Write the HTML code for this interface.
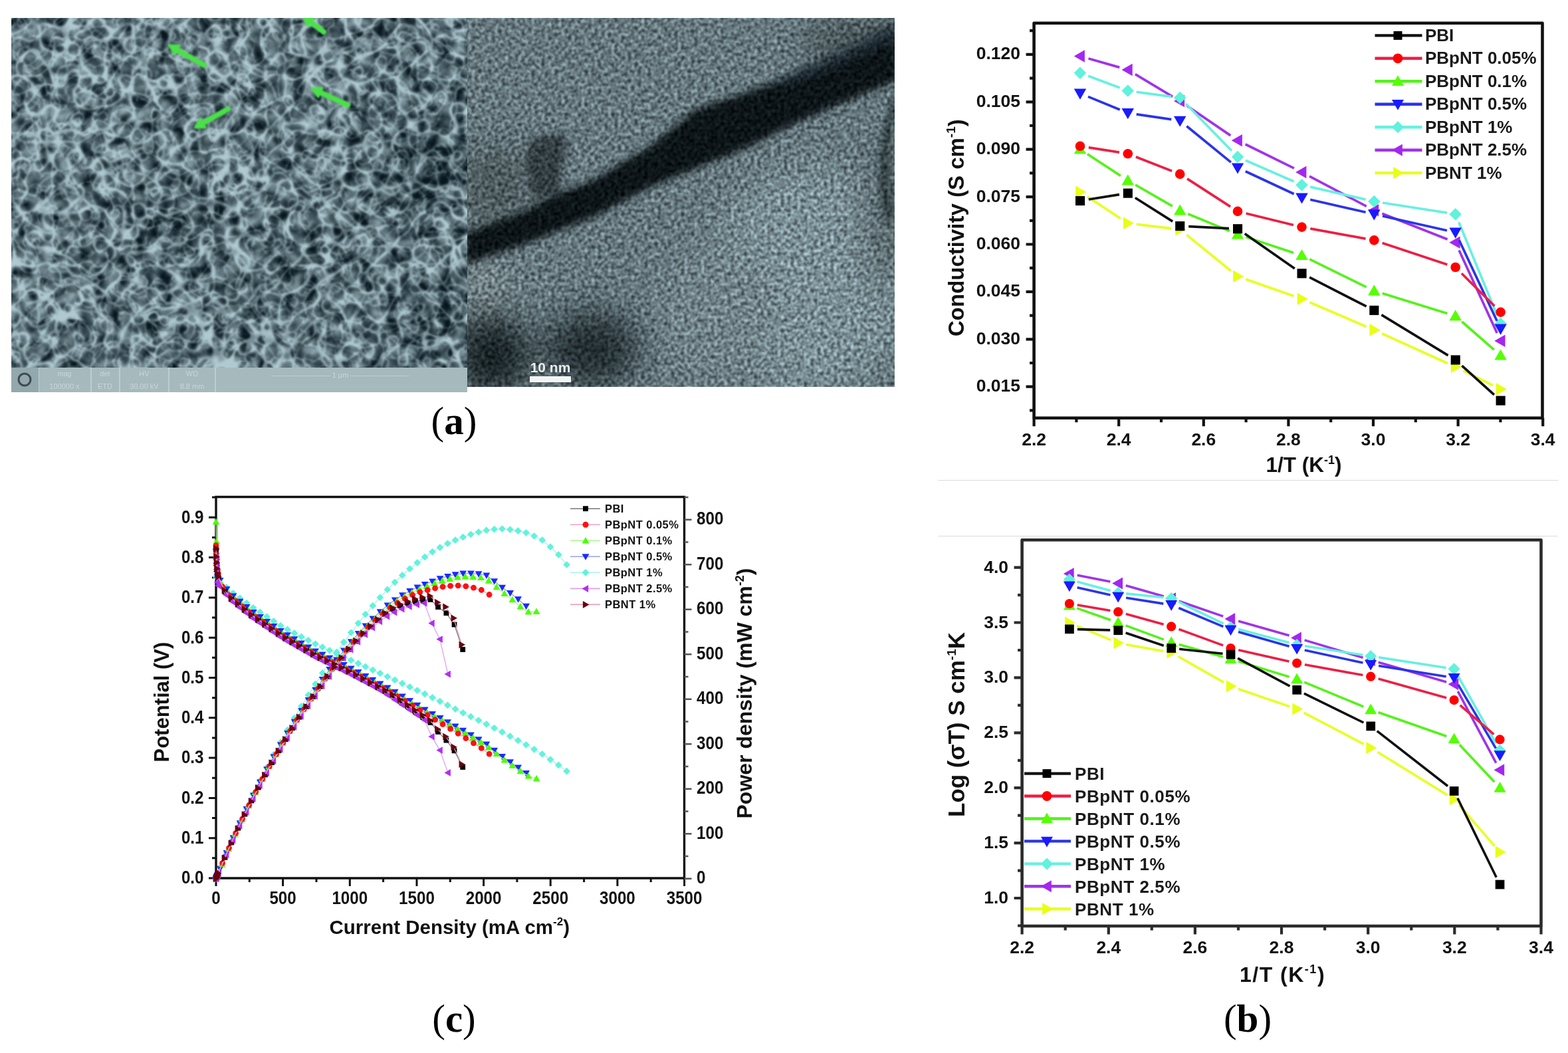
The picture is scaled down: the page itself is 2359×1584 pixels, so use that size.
<!DOCTYPE html>
<html><head><meta charset="utf-8"><title>Figure</title>
<style>html,body{margin:0;padding:0;background:#fff;}body{width:2359px;height:1584px;overflow:hidden}svg{display:block}</style>
</head><body>
<svg xmlns="http://www.w3.org/2000/svg" width="2359" height="1584" viewBox="0 0 2359 1584">
<rect width="2359" height="1584" fill="#fff"/>
<defs>
<clipPath id="semclip"><rect x="17" y="27" width="686" height="526"/></clipPath>
<clipPath id="temclip"><rect x="703" y="27" width="643" height="555"/></clipPath>
<filter id="semf" x="5" y="15" width="710" height="550" filterUnits="userSpaceOnUse" color-interpolation-filters="sRGB">
  <feTurbulence type="turbulence" baseFrequency="0.025" numOctaves="1" seed="7" result="t1"/>
  <feColorMatrix in="t1" type="matrix" values="1 0 0 0 0  1 0 0 0 0  1 0 0 0 0  0 0 0 0 1" result="g1"/>
  <feComponentTransfer in="g1" result="l1"><feFuncR type="table" tableValues="1 0.55 0.15 0.02 0 0 0 0 0 0 0 0 0 0 0 0 0 0 0 0 0 0 0 0 0 0 0 0 0 0 0 0 0 0 0 0 0 0 0 0"/><feFuncG type="table" tableValues="1 0.55 0.15 0.02 0 0 0 0 0 0 0 0 0 0 0 0 0 0 0 0 0 0 0 0 0 0 0 0 0 0 0 0 0 0 0 0 0 0 0 0"/><feFuncB type="table" tableValues="1 0.55 0.15 0.02 0 0 0 0 0 0 0 0 0 0 0 0 0 0 0 0 0 0 0 0 0 0 0 0 0 0 0 0 0 0 0 0 0 0 0 0"/></feComponentTransfer>
  <feTurbulence type="turbulence" baseFrequency="0.035" numOctaves="1" seed="21" result="t2"/>
  <feColorMatrix in="t2" type="matrix" values="0 1 0 0 0  0 1 0 0 0  0 1 0 0 0  0 0 0 0 1" result="g2"/>
  <feComponentTransfer in="g2" result="l2"><feFuncR type="table" tableValues="0.9 0.45 0.1 0 0 0 0 0 0 0 0 0 0 0 0 0 0 0 0 0 0 0 0 0 0 0 0 0 0 0 0 0 0 0 0 0 0 0 0 0"/><feFuncG type="table" tableValues="0.9 0.45 0.1 0 0 0 0 0 0 0 0 0 0 0 0 0 0 0 0 0 0 0 0 0 0 0 0 0 0 0 0 0 0 0 0 0 0 0 0 0"/><feFuncB type="table" tableValues="0.9 0.45 0.1 0 0 0 0 0 0 0 0 0 0 0 0 0 0 0 0 0 0 0 0 0 0 0 0 0 0 0 0 0 0 0 0 0 0 0 0 0"/></feComponentTransfer>
  <feBlend in="l1" in2="l2" mode="lighten" result="lines0"/>
  <feTurbulence type="turbulence" baseFrequency="0.05" numOctaves="1" seed="41" result="t3"/>
  <feColorMatrix in="t3" type="matrix" values="0 0 1 0 0  0 0 1 0 0  0 0 1 0 0  0 0 0 0 1" result="g3"/>
  <feComponentTransfer in="g3" result="l3"><feFuncR type="table" tableValues="0.7 0.28 0.04 0 0 0 0 0 0 0 0 0 0 0 0 0 0 0 0 0 0 0 0 0 0 0 0 0 0 0 0 0 0 0 0 0 0 0 0 0"/><feFuncG type="table" tableValues="0.7 0.28 0.04 0 0 0 0 0 0 0 0 0 0 0 0 0 0 0 0 0 0 0 0 0 0 0 0 0 0 0 0 0 0 0 0 0 0 0 0 0"/><feFuncB type="table" tableValues="0.7 0.28 0.04 0 0 0 0 0 0 0 0 0 0 0 0 0 0 0 0 0 0 0 0 0 0 0 0 0 0 0 0 0 0 0 0 0 0 0 0 0"/></feComponentTransfer>
  <feBlend in="lines0" in2="l3" mode="lighten" result="lines"/>
  <feTurbulence type="fractalNoise" baseFrequency="0.05" numOctaves="2" seed="5" result="mn"/>
  <feColorMatrix in="mn" type="matrix" values="1 0 0 0 0  1 0 0 0 0  1 0 0 0 0  0 0 0 0 1" result="mng"/>
  <feColorMatrix in="SourceGraphic" type="matrix" values="1 0 0 0 0  1 0 0 0 0  1 0 0 0 0  0 0 0 0 1" result="lfg"/>
  <feComposite in="mng" in2="lfg" operator="arithmetic" k1="0" k2="1.4" k3="0.8" k4="-0.8" result="bg"/>
  <feComposite in="lines" in2="bg" operator="arithmetic" k1="0" k2="0.62" k3="1" k4="0" result="v"/>
  <feGaussianBlur in="v" stdDeviation="1.7" result="vb"/>
  <feColorMatrix in="vb" type="matrix" values="0.66 0 0 0 0.03  0 0.7 0 0 0.09  0 0 0.7 0 0.12  0 0 0 0 1"/>
</filter>
<filter id="blur12" x="-50%" y="-50%" width="200%" height="200%" color-interpolation-filters="sRGB"><feGaussianBlur stdDeviation="12"/></filter>
<filter id="blur25" x="-50%" y="-50%" width="200%" height="200%" color-interpolation-filters="sRGB"><feGaussianBlur stdDeviation="25"/></filter>
<filter id="blur1" x="-10%" y="-10%" width="120%" height="120%" color-interpolation-filters="sRGB"><feGaussianBlur stdDeviation="0.9"/></filter>
<filter id="blur6" x="-50%" y="-50%" width="200%" height="200%" color-interpolation-filters="sRGB"><feGaussianBlur stdDeviation="6"/></filter>
<filter id="temf" x="690" y="15" width="670" height="580" filterUnits="userSpaceOnUse" color-interpolation-filters="sRGB">
  <feTurbulence type="fractalNoise" baseFrequency="0.2" numOctaves="2" seed="9" result="n"/>
  <feColorMatrix in="n" type="matrix" values="1 0 0 0 0  1 0 0 0 0  1 0 0 0 0  0 0 0 0 1" result="ng"/>
  <feComponentTransfer in="ng" result="nc">
    <feFuncR type="linear" slope="1.7" intercept="-0.35"/>
    <feFuncG type="linear" slope="1.7" intercept="-0.35"/>
    <feFuncB type="linear" slope="1.7" intercept="-0.35"/>
  </feComponentTransfer>
  <feGaussianBlur in="nc" stdDeviation="0.9" result="nb"/>
  <feComposite in="SourceGraphic" in2="nb" operator="arithmetic" k1="1.0" k2="0.5" k3="0.1" k4="-0.05"/>
</filter>
</defs>
<g clip-path="url(#semclip)"><g filter="url(#semf)">
<rect x="5" y="15" width="710" height="550" fill="#8a8a8a"/>
<g filter="url(#blur25)">
<ellipse cx="640" cy="250" rx="70" ry="80" fill="#505050"/>
<ellipse cx="260" cy="350" rx="90" ry="60" fill="#6a6a6a"/>
<ellipse cx="650" cy="480" rx="60" ry="60" fill="#5a5a5a"/>
<ellipse cx="80" cy="200" rx="80" ry="120" fill="#9e9e9e"/>
<ellipse cx="60" cy="440" rx="50" ry="60" fill="#a8a8a8"/>
<ellipse cx="400" cy="120" rx="120" ry="70" fill="#949494"/>
<ellipse cx="470" cy="400" rx="80" ry="50" fill="#707070"/>
<ellipse cx="300" cy="500" rx="120" ry="40" fill="#7a7a7a"/>
</g></g></g>
<g clip-path="url(#semclip)" filter="url(#blur1)">
<path d="M266.4 74.9L307 98" stroke="#4be04a" stroke-width="8" stroke-linecap="round"/>
<path d="M254.3 68.0L262.7 81.5L270.1 68.4Z" fill="#4be04a" stroke="#4be04a" stroke-width="3" stroke-linejoin="round"/>
<path d="M467.6 33.3L487 48" stroke="#4be04a" stroke-width="8" stroke-linecap="round"/>
<path d="M456.4 24.8L463.0 39.2L472.1 27.3Z" fill="#4be04a" stroke="#4be04a" stroke-width="3" stroke-linejoin="round"/>
<path d="M481.9 139.0L523 158" stroke="#4be04a" stroke-width="8" stroke-linecap="round"/>
<path d="M469.2 133.2L478.8 145.8L485.0 132.2Z" fill="#4be04a" stroke="#4be04a" stroke-width="3" stroke-linejoin="round"/>
<path d="M305.5 185.1L343 164" stroke="#4be04a" stroke-width="8" stroke-linecap="round"/>
<path d="M293.3 192.0L309.1 191.7L301.8 178.6Z" fill="#4be04a" stroke="#4be04a" stroke-width="3" stroke-linejoin="round"/>
</g>
<rect x="17" y="553" width="686" height="37" fill="#a6b9bd"/>
<g stroke="#c6d4d6" stroke-width="1.5">
<path d="M58 553V590"/>
<path d="M137 553V590"/>
<path d="M180 553V590"/>
<path d="M254 553V590"/>
<path d="M324 553V590"/>
</g>
<rect x="17" y="553" width="41" height="37" fill="#93a8ac"/>
<circle cx="37" cy="571" r="9" fill="none" stroke="#3d4a4e" stroke-width="3"/>
<g font-family="'Liberation Sans', Arial, sans-serif" font-size="11px" fill="#c8d6d8" text-anchor="middle">
<text x="97" y="566">mag</text><text x="97" y="585">100000 x</text>
<text x="158" y="566">det</text><text x="158" y="585">ETD</text>
<text x="217" y="566">HV</text><text x="217" y="585">30.00 kV</text>
<text x="289" y="566">WD</text><text x="289" y="585">8.8 mm</text>
<text x="512" y="568">———————— 1 µm ————————</text>
</g>
<g clip-path="url(#temclip)"><g filter="url(#temf)">
<rect x="690" y="15" width="670" height="580" fill="#66787e"/>
<g filter="url(#blur25)">
<ellipse cx="1220" cy="420" rx="150" ry="170" fill="#7b8f96"/>
<ellipse cx="1080" cy="470" rx="90" ry="100" fill="#718389"/>
<ellipse cx="1290" cy="70" rx="80" ry="50" fill="#4a575a"/>
<ellipse cx="745" cy="280" rx="55" ry="60" fill="#4c595c"/>
<ellipse cx="740" cy="535" rx="55" ry="60" fill="#172124"/>
<ellipse cx="890" cy="525" rx="70" ry="55" fill="#222d31"/>
<ellipse cx="728" cy="430" rx="30" ry="40" fill="#7c8a8d"/>
<ellipse cx="1330" cy="330" rx="22" ry="110" fill="#505d60"/>
</g>
<g filter="url(#blur6)">
<path d="M700 350L783 320L838 292L894 270L949 237L977 221L1046 165L1087 151L1143 132L1198 110L1253 91L1309 63L1350 40L1350 120L1281 149L1198 185L1115 226L1060 248L977 282L894 326L783 370L700 398Z" fill="#0d1518"/>
<path d="M797 210 L835 200 L855 208 L848 240 L840 290 L805 300 L790 250 Z" fill="#2a3538" opacity="0.85"/>
<path d="M1150 130 L1350 30 L1350 60 L1200 125 Z" fill="#25323a" opacity="0.7"/>
<path d="M1350 150 C1330 200 1325 250 1338 330" stroke="#1e2a2e" stroke-width="10" fill="none"/>
</g>
</g></g>
<text x="828" y="560" font-family="'Liberation Sans', Arial, sans-serif" font-weight="bold" font-size="21px" fill="#e8eeee" text-anchor="middle">10 nm</text>
<rect x="797" y="566" width="62" height="9" fill="#f2f4f4"/>
<g id="b1">
<path d="M1555.6 34.7H2320.5V628.7H1555.6Z" fill="none" stroke="#111" stroke-width="4.6" stroke-linejoin="round"/>
<path d="M1543.6 581.7H1555.6M1543.6 510.3H1555.6M1543.6 438.9H1555.6M1543.6 367.5H1555.6M1543.6 296.1H1555.6M1543.6 224.7H1555.6M1543.6 153.3H1555.6M1543.6 81.9H1555.6M1549.1 617.4H1555.6M1549.1 546H1555.6M1549.1 474.6H1555.6M1549.1 403.2H1555.6M1549.1 331.8H1555.6M1549.1 260.4H1555.6M1549.1 189H1555.6M1549.1 117.6H1555.6M1549.1 46.2H1555.6M1555.6 628.7V641.2M1683.2 628.7V641.2M1810.8 628.7V641.2M1938.4 628.7V641.2M2066 628.7V641.2M2193.6 628.7V641.2M2321.2 628.7V641.2M1619.4 628.7V635.2M1747 628.7V635.2M1874.6 628.7V635.2M2002.2 628.7V635.2M2129.8 628.7V635.2M2257.4 628.7V635.2" stroke="#111" stroke-width="4.2" fill="none"/>
<g font-family="'Liberation Sans', Arial, sans-serif" font-weight="bold" font-size="26.5px" fill="#111">
<text x="1535" y="589.2" text-anchor="end">0.015</text>
<text x="1535" y="517.8" text-anchor="end">0.030</text>
<text x="1535" y="446.4" text-anchor="end">0.045</text>
<text x="1535" y="375" text-anchor="end">0.060</text>
<text x="1535" y="303.6" text-anchor="end">0.075</text>
<text x="1535" y="232.2" text-anchor="end">0.090</text>
<text x="1535" y="160.8" text-anchor="end">0.105</text>
<text x="1535" y="89.4" text-anchor="end">0.120</text>
<text x="1555.6" y="669.5" text-anchor="middle">2.2</text>
<text x="1683.2" y="669.5" text-anchor="middle">2.4</text>
<text x="1810.8" y="669.5" text-anchor="middle">2.6</text>
<text x="1938.4" y="669.5" text-anchor="middle">2.8</text>
<text x="2066" y="669.5" text-anchor="middle">3.0</text>
<text x="2193.6" y="669.5" text-anchor="middle">3.2</text>
<text x="2321.2" y="669.5" text-anchor="middle">3.4</text>
</g>
<text transform="translate(1449.5 506) rotate(-90)" font-family="'Liberation Sans', Arial, sans-serif" font-weight="bold" font-size="33px" fill="#111">Conductivity (S cm<tspan dy="-13" font-size="19px">-1</tspan><tspan dy="13">)</tspan></text>
<text x="1961.4" y="709.5" font-family="'Liberation Sans', Arial, sans-serif" font-weight="bold" font-size="31.5px" fill="#111" text-anchor="middle">1/T (K<tspan dy="-12" font-size="18px">-1</tspan><tspan dy="12">)</tspan></text>
<path d="M1635.9 295.8L1685.9 328.7M1709.7 337.3L1762.3 343.7M1785.3 353.4L1851.9 407.5M1874.3 420L1946.2 445.3M1970.4 454.7L2055.4 491.3M2079.1 501.8L2177.9 546.5M2201.4 557.7L2245.9 579.6" stroke="#e6ff22" stroke-width="3.7" fill="none"/>
<polygon points="1634.2,288.7 1618.1,279.4 1618.1,297.9" fill="#e8ff14"/>
<polygon points="1706,335.8 1689.9,326.6 1689.9,345.1" fill="#e8ff14"/>
<polygon points="1784.5,345.2 1768.3,335.9 1768.3,354.4" fill="#e8ff14"/>
<polygon points="1871.2,415.7 1855.1,406.4 1855.1,424.9" fill="#e8ff14"/>
<polygon points="1967.8,449.6 1951.6,440.4 1951.6,458.9" fill="#e8ff14"/>
<polygon points="2076.6,496.4 2060.4,487.1 2060.4,505.6" fill="#e8ff14"/>
<polygon points="2198.9,551.9 2182.8,542.6 2182.8,561.1" fill="#e8ff14"/>
<polygon points="2266.8,585.4 2250.7,576.1 2250.7,594.6" fill="#e8ff14"/>
<path d="M1637.5 88L1684.3 101.4M1707.9 111.7L1764.1 145.3M1785.9 159.3L1851.3 203.9M1873.6 217L1946.9 253.2M1970 265.1L2055.8 310.3M2079.4 321.2L2177.6 360M2195.1 376.6L2252.2 500.9" stroke="#a033e8" stroke-width="3.7" fill="none"/>
<polygon points="1615.8,84.4 1631.9,75.2 1631.9,93.7" fill="#a526f0"/>
<polygon points="1687.5,105 1703.7,95.8 1703.7,114.2" fill="#a526f0"/>
<polygon points="1766,152 1782.1,142.8 1782.1,161.2" fill="#a526f0"/>
<polygon points="1852.8,211.2 1868.9,201.9 1868.9,220.4" fill="#a526f0"/>
<polygon points="1949.2,259 1965.4,249.8 1965.4,268.2" fill="#a526f0"/>
<polygon points="2058.1,316.4 2074.2,307.1 2074.2,325.6" fill="#a526f0"/>
<polygon points="2180.4,364.8 2196.6,355.6 2196.6,374.1" fill="#a526f0"/>
<polygon points="2248.3,512.7 2264.5,503.5 2264.5,522" fill="#a526f0"/>
<path d="M1637.2 114.3L1684.6 132.1M1709.7 138.3L1762.3 145.3M1784.3 156.3L1852.9 226.7M1873.9 241.2L1946.6 273M1971.2 281.1L2054.6 300.1M2080.1 305L2176.9 320.2M2194.7 334.2L2252.6 474.9" stroke="#68f0e0" stroke-width="3.7" fill="none"/>
<polygon points="1625,100.5 1634.2,109.8 1625,119 1615.8,109.8" fill="#5ff2dc"/>
<polygon points="1696.8,127.3 1706,136.6 1696.8,145.8 1687.5,136.6" fill="#5ff2dc"/>
<polygon points="1775.2,137.8 1784.5,147 1775.2,156.2 1766,147" fill="#5ff2dc"/>
<polygon points="1862,226.8 1871.2,236 1862,245.2 1852.8,236" fill="#5ff2dc"/>
<polygon points="1958.5,268.9 1967.8,278.2 1958.5,287.4 1949.2,278.2" fill="#5ff2dc"/>
<polygon points="2067.3,293.8 2076.6,303 2067.3,312.2 2058.1,303" fill="#5ff2dc"/>
<polygon points="2189.7,312.9 2198.9,322.2 2189.7,331.4 2180.4,322.2" fill="#5ff2dc"/>
<polygon points="2257.6,477.6 2266.8,486.9 2257.6,496.1 2248.3,486.9" fill="#5ff2dc"/>
<path d="M1637 145.4L1684.8 165M1709.7 171.9L1762.3 179.7M1785.3 189.8L1851.9 244.1M1873.8 257.8L1946.7 291.8M1971.2 300.2L2054.6 319.3M2080 325L2177 346.7M2195.2 361.3L2252.1 482.7" stroke="#2a35e6" stroke-width="3.7" fill="none"/>
<polygon points="1625,149.7 1634.2,133.5 1615.8,133.5" fill="#1a1aff"/>
<polygon points="1696.8,179.2 1706,163.1 1687.5,163.1" fill="#1a1aff"/>
<polygon points="1775.2,190.8 1784.5,174.7 1766,174.7" fill="#1a1aff"/>
<polygon points="1862,261.6 1871.2,245.4 1852.8,245.4" fill="#1a1aff"/>
<polygon points="1958.5,306.6 1967.8,290.4 1949.2,290.4" fill="#1a1aff"/>
<polygon points="2067.3,331.4 2076.6,315.3 2058.1,315.3" fill="#1a1aff"/>
<polygon points="2189.7,358.8 2198.9,342.6 2180.4,342.6" fill="#1a1aff"/>
<polygon points="2257.6,503.8 2266.8,487.6 2248.3,487.6" fill="#1a1aff"/>
<path d="M1635.9 231.7L1685.9 264.4M1708.1 278L1763.9 310.2M1787.2 321.7L1850 347.6M1874.4 356.6L1946.1 380.2M1970.2 389.9L2055.6 431.8M2079.7 441.3L2177.3 471.6M2199.5 484L2247.8 526.1" stroke="#55f21a" stroke-width="3.7" fill="none"/>
<polygon points="1625,215.3 1634.2,231.5 1615.8,231.5" fill="#55ff00"/>
<polygon points="1696.8,262.2 1706,278.4 1687.5,278.4" fill="#55ff00"/>
<polygon points="1775.2,307.4 1784.5,323.6 1766,323.6" fill="#55ff00"/>
<polygon points="1862,343.4 1871.2,359.5 1852.8,359.5" fill="#55ff00"/>
<polygon points="1958.5,374.9 1967.8,391.1 1949.2,391.1" fill="#55ff00"/>
<polygon points="2067.3,428.2 2076.6,444.4 2058.1,444.4" fill="#55ff00"/>
<polygon points="2189.7,466.1 2198.9,482.3 2180.4,482.3" fill="#55ff00"/>
<polygon points="2257.6,525.5 2266.8,541.6 2248.3,541.6" fill="#55ff00"/>
<path d="M1637.8 221.9L1684 229.2M1708.9 236L1763.1 257.2M1786.1 268.9L1851.1 310.9M1874.6 321L1945.9 338.5M1971.3 343.9L2054.5 359.1M2079.6 365.5L2177.4 397.9M2198.9 411.2L2248.4 460.4" stroke="#ec1f45" stroke-width="3.7" fill="none"/>
<circle cx="1625" cy="219.8" r="7.3" fill="#ff0000"/>
<circle cx="1696.8" cy="231.3" r="7.3" fill="#ff0000"/>
<circle cx="1775.2" cy="261.9" r="7.3" fill="#ff0000"/>
<circle cx="1862" cy="317.9" r="7.3" fill="#ff0000"/>
<circle cx="1958.5" cy="341.6" r="7.3" fill="#ff0000"/>
<circle cx="2067.3" cy="361.4" r="7.3" fill="#ff0000"/>
<circle cx="2189.7" cy="402" r="7.3" fill="#ff0000"/>
<circle cx="2257.6" cy="469.6" r="7.3" fill="#ff0000"/>
<path d="M1637.8 300L1684 292.6M1707.8 297.5L1764.2 333.1M1788.2 340.6L1849 343.6M1872.7 351.6L1947.8 403.9M1970.1 417.2L2055.7 460.9M2078.4 473.6L2178.6 534.6M2199.4 550.1L2247.9 593.9" stroke="#111111" stroke-width="3.7" fill="none"/>
<rect x="1618" y="295" width="14.1" height="14.1" fill="#000000"/>
<rect x="1689.8" y="283.6" width="14.1" height="14.1" fill="#000000"/>
<rect x="1768.2" y="333" width="14.1" height="14.1" fill="#000000"/>
<rect x="1855" y="337.2" width="14.1" height="14.1" fill="#000000"/>
<rect x="1951.5" y="404.3" width="14.1" height="14.1" fill="#000000"/>
<rect x="2060.3" y="459.8" width="14.1" height="14.1" fill="#000000"/>
<rect x="2182.7" y="534.4" width="14.1" height="14.1" fill="#000000"/>
<rect x="2250.6" y="595.6" width="14.1" height="14.1" fill="#000000"/>
<g font-family="'Liberation Sans', Arial, sans-serif" font-weight="bold" font-size="26px" fill="#1a1a1a">
<path d="M2068.5 53.4H2139.5" stroke="#111111" stroke-width="4.4"/>
<rect x="2096.5" y="46.9" width="13" height="13" fill="#000000"/>
<text x="2144" y="61.9">PBI</text>
<path d="M2068.5 87.8H2139.5" stroke="#ec1f45" stroke-width="4.4"/>
<circle cx="2103" cy="87.8" r="7.4" fill="#ff0000"/>
<text x="2144" y="96.3">PBpNT 0.05%</text>
<path d="M2068.5 122.3H2139.5" stroke="#55f21a" stroke-width="4.4"/>
<polygon points="2103,113.3 2112,129.1 2094,129.1" fill="#55ff00"/>
<text x="2144" y="130.8">PBpNT 0.1%</text>
<path d="M2068.5 156.8H2139.5" stroke="#2a35e6" stroke-width="4.4"/>
<polygon points="2103,165.8 2112,150 2094,150" fill="#1a1aff"/>
<text x="2144" y="165.2">PBpNT 0.5%</text>
<path d="M2068.5 191.2H2139.5" stroke="#68f0e0" stroke-width="4.4"/>
<polygon points="2103,182.2 2112,191.2 2103,200.2 2094,191.2" fill="#5ff2dc"/>
<text x="2144" y="199.7">PBpNT 1%</text>
<path d="M2068.5 225.7H2139.5" stroke="#a033e8" stroke-width="4.4"/>
<polygon points="2094,225.7 2109.8,216.7 2109.8,234.7" fill="#a526f0"/>
<text x="2144" y="234.2">PBpNT 2.5%</text>
<path d="M2068.5 260.1H2139.5" stroke="#e6ff22" stroke-width="4.4"/>
<polygon points="2112,260.1 2096.2,251.1 2096.2,269.1" fill="#e8ff14"/>
<text x="2144" y="268.6">PBNT 1%</text>
</g>
</g>
<g id="b2">
<path d="M1537.6 812.2H2318.5V1393.0H1537.6Z" fill="none" stroke="#2b2b2b" stroke-width="4.6" stroke-linejoin="round"/>
<path d="M1525.6 1351H1537.6M1525.6 1268.1H1537.6M1525.6 1185.2H1537.6M1525.6 1102.3H1537.6M1525.6 1019.4H1537.6M1525.6 936.5H1537.6M1525.6 853.6H1537.6M1531.1 1392.5H1537.6M1531.1 1309.6H1537.6M1531.1 1226.7H1537.6M1531.1 1143.8H1537.6M1531.1 1060.8H1537.6M1531.1 978H1537.6M1531.1 895.1H1537.6M1537.6 1393.0V1405.5M1667.8 1393.0V1405.5M1797.9 1393.0V1405.5M1928 1393.0V1405.5M2058.2 1393.0V1405.5M2188.3 1393.0V1405.5M2318.5 1393.0V1405.5M1602.7 1393.0V1399.5M1732.8 1393.0V1399.5M1863 1393.0V1399.5M1993.1 1393.0V1399.5M2123.3 1393.0V1399.5M2253.4 1393.0V1399.5" stroke="#2b2b2b" stroke-width="4.2" fill="none"/>
<g font-family="'Liberation Sans', Arial, sans-serif" font-weight="bold" font-size="26.5px" fill="#111">
<text x="1517" y="1359" text-anchor="end">1.0</text>
<text x="1517" y="1276.1" text-anchor="end">1.5</text>
<text x="1517" y="1193.2" text-anchor="end">2.0</text>
<text x="1517" y="1110.3" text-anchor="end">2.5</text>
<text x="1517" y="1027.4" text-anchor="end">3.0</text>
<text x="1517" y="944.5" text-anchor="end">3.5</text>
<text x="1517" y="861.6" text-anchor="end">4.0</text>
<text x="1537.6" y="1433.5" text-anchor="middle">2.2</text>
<text x="1667.8" y="1433.5" text-anchor="middle">2.4</text>
<text x="1797.9" y="1433.5" text-anchor="middle">2.6</text>
<text x="1928" y="1433.5" text-anchor="middle">2.8</text>
<text x="2058.2" y="1433.5" text-anchor="middle">3.0</text>
<text x="2188.3" y="1433.5" text-anchor="middle">3.2</text>
<text x="2318.5" y="1433.5" text-anchor="middle">3.4</text>
</g>
<text transform="translate(1451 1229) rotate(-90)" font-family="'Liberation Sans', Arial, sans-serif" font-weight="bold" font-size="35px" fill="#111">Log (σT) S cm<tspan dy="-13" font-size="19px">-1</tspan><tspan dy="13">K</tspan></text>
<text x="1929.5" y="1477" font-family="'Liberation Sans', Arial, sans-serif" font-weight="bold" font-size="32px" letter-spacing="1.5" fill="#111" text-anchor="middle">1/T (K<tspan dy="-13" font-size="18px">-1</tspan><tspan dy="13">)</tspan></text>
<path d="M1620 941.3L1671.1 962.7M1694 969.4L1750.4 979.5M1772.6 987.5L1841.1 1026.4M1862.8 1036.2L1939.8 1062.6M1961.7 1072.1L2051.6 1119.3M2072.4 1131.2L2177.4 1196M2195.5 1211.4L2248.6 1272.6" stroke="#e6ff22" stroke-width="3.6" fill="none"/>
<polygon points="1617.9,936.7 1602.2,927.7 1602.2,945.7" fill="#e8ff14"/>
<polygon points="1691.2,967.3 1675.5,958.3 1675.5,976.3" fill="#e8ff14"/>
<polygon points="1771.2,981.6 1755.5,972.6 1755.5,990.6" fill="#e8ff14"/>
<polygon points="1860.5,1032.3 1844.8,1023.3 1844.8,1041.3" fill="#e8ff14"/>
<polygon points="1960.1,1066.5 1944.3,1057.5 1944.3,1075.5" fill="#e8ff14"/>
<polygon points="2071.2,1124.9 2055.4,1115.9 2055.4,1133.9" fill="#e8ff14"/>
<polygon points="2196.6,1202.3 2180.8,1193.3 2180.8,1211.3" fill="#e8ff14"/>
<polygon points="2265.5,1281.7 2249.8,1272.7 2249.8,1290.7" fill="#e8ff14"/>
<path d="M1620.7 865.3L1670.4 875.1M1693.7 880.7L1750.7 897M1773.5 904.2L1840.2 927.1M1863 934.3L1939.6 956.1M1962.6 962.9L2050.7 989.4M2073.7 996.2L2176.1 1025.9M2193.3 1039.8L2250.8 1147.7" stroke="#a033e8" stroke-width="3.6" fill="none"/>
<polygon points="1599.9,863 1615.7,854 1615.7,872" fill="#a526f0"/>
<polygon points="1673.2,877.4 1689,868.4 1689,886.4" fill="#a526f0"/>
<polygon points="1753.2,900.3 1769,891.3 1769,909.3" fill="#a526f0"/>
<polygon points="1842.5,931 1858.2,922 1858.2,940" fill="#a526f0"/>
<polygon points="1942.1,959.4 1957.8,950.4 1957.8,968.4" fill="#a526f0"/>
<polygon points="2053.2,992.9 2068.9,983.9 2068.9,1001.9" fill="#a526f0"/>
<polygon points="2178.6,1029.2 2194.3,1020.2 2194.3,1038.2" fill="#a526f0"/>
<polygon points="2247.5,1158.3 2263.2,1149.3 2263.2,1167.3" fill="#a526f0"/>
<path d="M1620.5 874.9L1670.6 888.5M1694.1 892.9L1750.3 898.8M1773 905.2L1840.7 938.2M1863.1 946.5L1939.5 966.8M1963 971.7L2050.3 985.3M2074.1 988.9L2175.7 1004.5M2193.5 1016.8L2250.6 1118.2" stroke="#68f0e0" stroke-width="3.6" fill="none"/>
<polygon points="1608.9,862.7 1617.9,871.7 1608.9,880.7 1599.9,871.7" fill="#5ff2dc"/>
<polygon points="1682.2,882.7 1691.2,891.7 1682.2,900.7 1673.2,891.7" fill="#5ff2dc"/>
<polygon points="1762.2,891 1771.2,900 1762.2,909 1753.2,900" fill="#5ff2dc"/>
<polygon points="1851.5,934.4 1860.5,943.4 1851.5,952.4 1842.5,943.4" fill="#5ff2dc"/>
<polygon points="1951.1,960.9 1960.1,969.9 1951.1,978.9 1942.1,969.9" fill="#5ff2dc"/>
<polygon points="2062.2,978.1 2071.2,987.1 2062.2,996.1 2053.2,987.1" fill="#5ff2dc"/>
<polygon points="2187.6,997.3 2196.6,1006.3 2187.6,1015.3 2178.6,1006.3" fill="#5ff2dc"/>
<polygon points="2256.5,1119.7 2265.5,1128.7 2256.5,1137.7 2247.5,1128.7" fill="#5ff2dc"/>
<path d="M1620.6 883.8L1670.5 894.9M1694.1 899.3L1750.3 908.1M1773.3 914.5L1840.4 942.6M1863 950.5L1939.6 972.3M1962.8 978.1L2050.5 997.1M2074.1 1001.5L2175.7 1017.7M2193.7 1029.9L2250.4 1125.7" stroke="#2a35e6" stroke-width="3.6" fill="none"/>
<polygon points="1608.9,890.2 1617.9,874.5 1599.9,874.5" fill="#1a1aff"/>
<polygon points="1682.2,906.5 1691.2,890.8 1673.2,890.8" fill="#1a1aff"/>
<polygon points="1762.2,918.9 1771.2,903.1 1753.2,903.1" fill="#1a1aff"/>
<polygon points="1851.5,956.2 1860.5,940.5 1842.5,940.5" fill="#1a1aff"/>
<polygon points="1951.1,984.6 1960.1,968.9 1942.1,968.9" fill="#1a1aff"/>
<polygon points="2062.2,1008.6 2071.2,992.9 2053.2,992.9" fill="#1a1aff"/>
<polygon points="2187.6,1028.6 2196.6,1012.9 2178.6,1012.9" fill="#1a1aff"/>
<polygon points="2256.5,1145 2265.5,1129.2 2247.5,1129.2" fill="#1a1aff"/>
<path d="M1620.2 914.9L1670.9 932.7M1693.5 940.9L1750.9 962.1M1773.8 969.5L1839.9 988M1863 994.7L1939.6 1018.1M1962.2 1026.2L2051.1 1062.9M2073.5 1071.5L2176.3 1107.5M2195.8 1120.3L2248.3 1176.3" stroke="#55f21a" stroke-width="3.6" fill="none"/>
<polygon points="1608.9,901.9 1617.9,917.6 1599.9,917.6" fill="#55ff00"/>
<polygon points="1682.2,927.7 1691.2,943.5 1673.2,943.5" fill="#55ff00"/>
<polygon points="1762.2,957.3 1771.2,973 1753.2,973" fill="#55ff00"/>
<polygon points="1851.5,982.2 1860.5,998 1842.5,998" fill="#55ff00"/>
<polygon points="1951.1,1012.6 1960.1,1028.3 1942.1,1028.3" fill="#55ff00"/>
<polygon points="2062.2,1058.5 2071.2,1074.2 2053.2,1074.2" fill="#55ff00"/>
<polygon points="2187.6,1102.5 2196.6,1118.2 2178.6,1118.2" fill="#55ff00"/>
<polygon points="2256.5,1176.1 2265.5,1191.8 2247.5,1191.8" fill="#55ff00"/>
<path d="M1620.7 910L1670.4 918.4M1693.8 923.6L1750.6 939.2M1773.5 946.5L1840.2 970.9M1863.2 977.7L1939.4 994.9M1962.9 999.7L2050.4 1015.6M2073.7 1021L2176.1 1049.8M2196.7 1060.9L2247.4 1104.6" stroke="#ec1f45" stroke-width="3.6" fill="none"/>
<circle cx="1608.9" cy="908" r="7.1" fill="#ff0000"/>
<circle cx="1682.2" cy="920.4" r="7.1" fill="#ff0000"/>
<circle cx="1762.2" cy="942.4" r="7.1" fill="#ff0000"/>
<circle cx="1851.5" cy="975" r="7.1" fill="#ff0000"/>
<circle cx="1951.1" cy="997.6" r="7.1" fill="#ff0000"/>
<circle cx="2062.2" cy="1017.7" r="7.1" fill="#ff0000"/>
<circle cx="2187.6" cy="1053.1" r="7.1" fill="#ff0000"/>
<circle cx="2256.5" cy="1112.4" r="7.1" fill="#ff0000"/>
<path d="M1620.9 946.6L1670.2 947.9M1693.6 952L1750.8 971.2M1774.1 976.3L1839.6 983.2M1862.1 990.2L1940.5 1032.1M1961.9 1043.1L2051.4 1087M2071.7 1099.7L2178.1 1182.5M2192.9 1200.7L2251.2 1319.7" stroke="#111111" stroke-width="3.6" fill="none"/>
<rect x="1602.1" y="939.5" width="13.7" height="13.7" fill="#000000"/>
<rect x="1675.4" y="941.4" width="13.7" height="13.7" fill="#000000"/>
<rect x="1755.4" y="968.2" width="13.7" height="13.7" fill="#000000"/>
<rect x="1844.7" y="977.7" width="13.7" height="13.7" fill="#000000"/>
<rect x="1944.3" y="1031" width="13.7" height="13.7" fill="#000000"/>
<rect x="2055.4" y="1085.5" width="13.7" height="13.7" fill="#000000"/>
<rect x="2180.8" y="1183.1" width="13.7" height="13.7" fill="#000000"/>
<rect x="2249.7" y="1323.7" width="13.7" height="13.7" fill="#000000"/>
<g font-family="'Liberation Sans', Arial, sans-serif" font-weight="bold" font-size="26px" fill="#1a1a1a">
<path d="M1541 1163.6H1611" stroke="#111111" stroke-width="4.4"/>
<rect x="1568.5" y="1157.1" width="13" height="13" fill="#000000"/>
<text x="1617" y="1173.1" letter-spacing="0.6">PBI</text>
<path d="M1541 1197.5H1611" stroke="#ec1f45" stroke-width="4.4"/>
<circle cx="1575" cy="1197.5" r="7.4" fill="#ff0000"/>
<text x="1617" y="1207" letter-spacing="0.6">PBpNT 0.05%</text>
<path d="M1541 1231.5H1611" stroke="#55f21a" stroke-width="4.4"/>
<polygon points="1575,1222.5 1584,1238.2 1566,1238.2" fill="#55ff00"/>
<text x="1617" y="1241" letter-spacing="0.6">PBpNT 0.1%</text>
<path d="M1541 1265.4H1611" stroke="#2a35e6" stroke-width="4.4"/>
<polygon points="1575,1274.4 1584,1258.7 1566,1258.7" fill="#1a1aff"/>
<text x="1617" y="1274.9" letter-spacing="0.6">PBpNT 0.5%</text>
<path d="M1541 1299.4H1611" stroke="#68f0e0" stroke-width="4.4"/>
<polygon points="1575,1290.4 1584,1299.4 1575,1308.4 1566,1299.4" fill="#5ff2dc"/>
<text x="1617" y="1308.9" letter-spacing="0.6">PBpNT 1%</text>
<path d="M1541 1333.3H1611" stroke="#a033e8" stroke-width="4.4"/>
<polygon points="1566,1333.3 1581.8,1324.3 1581.8,1342.3" fill="#a526f0"/>
<text x="1617" y="1342.8" letter-spacing="0.6">PBpNT 2.5%</text>
<path d="M1541 1367.3H1611" stroke="#e6ff22" stroke-width="4.4"/>
<polygon points="1584,1367.3 1568.2,1358.3 1568.2,1376.3" fill="#e8ff14"/>
<text x="1617" y="1376.8" letter-spacing="0.6">PBNT 1%</text>
</g>
</g>
<g id="c">
<path d="M325.0 747.5H1029.5V1321.0H325.0Z" fill="none" stroke="#111" stroke-width="3.4" stroke-linejoin="miter"/>
<path d="M314.0 1321H325.0M314.0 1260.7H325.0M314.0 1200.4H325.0M314.0 1140.1H325.0M314.0 1079.8H325.0M314.0 1019.5H325.0M314.0 959.2H325.0M314.0 898.9H325.0M314.0 838.6H325.0M314.0 778.3H325.0M319.0 1290.8H325.0M319.0 1230.5H325.0M319.0 1170.2H325.0M319.0 1110H325.0M319.0 1049.7H325.0M319.0 989.3H325.0M319.0 929H325.0M319.0 868.8H325.0M319.0 808.4H325.0M319.0 748.1H325.0M325 1321.0V1333.0M425.6 1321.0V1333.0M526.3 1321.0V1333.0M627 1321.0V1333.0M727.6 1321.0V1333.0M828.2 1321.0V1333.0M928.9 1321.0V1333.0M1029.6 1321.0V1333.0M375.3 1321.0V1327.0M476 1321.0V1327.0M576.6 1321.0V1327.0M677.3 1321.0V1327.0M777.9 1321.0V1327.0M878.6 1321.0V1327.0M979.2 1321.0V1327.0" stroke="#111" stroke-width="3" fill="none"/>
<path d="M1029.5 1321.8H1040.5M1029.5 1254.3H1040.5M1029.5 1186.8H1040.5M1029.5 1119.3H1040.5M1029.5 1051.8H1040.5M1029.5 984.3H1040.5M1029.5 916.8H1040.5M1029.5 849.3H1040.5M1029.5 781.8H1040.5M1029.5 1288H1035.5M1029.5 1220.5H1035.5M1029.5 1153H1035.5M1029.5 1085.5H1035.5M1029.5 1018H1035.5M1029.5 950.5H1035.5M1029.5 883H1035.5M1029.5 815.5H1035.5M1029.5 748H1035.5" stroke="#555" stroke-width="2.6" fill="none"/>
<g font-family="'Liberation Sans', Arial, sans-serif" font-weight="bold" font-size="27.5px" fill="#111">
<text x="306.5" y="1329.3" text-anchor="end" textLength="33.6" lengthAdjust="spacingAndGlyphs">0.0</text>
<text x="306.5" y="1269" text-anchor="end" textLength="33.6" lengthAdjust="spacingAndGlyphs">0.1</text>
<text x="306.5" y="1208.7" text-anchor="end" textLength="33.6" lengthAdjust="spacingAndGlyphs">0.2</text>
<text x="306.5" y="1148.4" text-anchor="end" textLength="33.6" lengthAdjust="spacingAndGlyphs">0.3</text>
<text x="306.5" y="1088.1" text-anchor="end" textLength="33.6" lengthAdjust="spacingAndGlyphs">0.4</text>
<text x="306.5" y="1027.8" text-anchor="end" textLength="33.6" lengthAdjust="spacingAndGlyphs">0.5</text>
<text x="306.5" y="967.5" text-anchor="end" textLength="33.6" lengthAdjust="spacingAndGlyphs">0.6</text>
<text x="306.5" y="907.2" text-anchor="end" textLength="33.6" lengthAdjust="spacingAndGlyphs">0.7</text>
<text x="306.5" y="846.9" text-anchor="end" textLength="33.6" lengthAdjust="spacingAndGlyphs">0.8</text>
<text x="306.5" y="786.6" text-anchor="end" textLength="33.6" lengthAdjust="spacingAndGlyphs">0.9</text>
<text x="325" y="1359.5" text-anchor="middle" textLength="13.5" lengthAdjust="spacingAndGlyphs">0</text>
<text x="425.6" y="1359.5" text-anchor="middle" textLength="40.4" lengthAdjust="spacingAndGlyphs">500</text>
<text x="526.3" y="1359.5" text-anchor="middle" textLength="53.8" lengthAdjust="spacingAndGlyphs">1000</text>
<text x="627" y="1359.5" text-anchor="middle" textLength="53.8" lengthAdjust="spacingAndGlyphs">1500</text>
<text x="727.6" y="1359.5" text-anchor="middle" textLength="53.8" lengthAdjust="spacingAndGlyphs">2000</text>
<text x="828.2" y="1359.5" text-anchor="middle" textLength="53.8" lengthAdjust="spacingAndGlyphs">2500</text>
<text x="928.9" y="1359.5" text-anchor="middle" textLength="53.8" lengthAdjust="spacingAndGlyphs">3000</text>
<text x="1029.6" y="1359.5" text-anchor="middle" textLength="53.8" lengthAdjust="spacingAndGlyphs">3500</text>
<text x="1048" y="1329.4" textLength="13.5" lengthAdjust="spacingAndGlyphs">0</text>
<text x="1048" y="1261.9" textLength="40.4" lengthAdjust="spacingAndGlyphs">100</text>
<text x="1048" y="1194.4" textLength="40.4" lengthAdjust="spacingAndGlyphs">200</text>
<text x="1048" y="1126.9" textLength="40.4" lengthAdjust="spacingAndGlyphs">300</text>
<text x="1048" y="1059.4" textLength="40.4" lengthAdjust="spacingAndGlyphs">400</text>
<text x="1048" y="991.9" textLength="40.4" lengthAdjust="spacingAndGlyphs">500</text>
<text x="1048" y="924.4" textLength="40.4" lengthAdjust="spacingAndGlyphs">600</text>
<text x="1048" y="856.9" textLength="40.4" lengthAdjust="spacingAndGlyphs">700</text>
<text x="1048" y="789.4" textLength="40.4" lengthAdjust="spacingAndGlyphs">800</text>
</g>
<text transform="translate(253.7 1146.5) rotate(-90)" font-family="'Liberation Sans', Arial, sans-serif" font-weight="bold" font-size="31px" fill="#111">Potential (V)</text>
<text transform="translate(1130.5 1231.5) rotate(-90)" font-family="'Liberation Sans', Arial, sans-serif" font-weight="bold" font-size="32px" fill="#111">Power density (mW cm<tspan dy="-12" font-size="18px">-2</tspan><tspan dy="12">)</tspan></text>
<text x="495.5" y="1405.4" font-family="'Liberation Sans', Arial, sans-serif" font-weight="bold" font-size="29.5px" fill="#111">Current Density (mA cm<tspan dy="-13" font-size="17px">-2</tspan><tspan dy="13">)</tspan></text>
<path d="M325 867.5L326 868.8L327.4 870L340.9 883.5L350.9 892.3L360.9 899.7L371 907.1L381.1 914.3L391.3 921L401.5 927.7L411.8 934.4L422.1 941.2L432.5 947L442.9 952.4L453.4 957.8L463.9 963.2L474.5 968.6L485.1 973.4L495.8 978.3L506.5 983.3L517.2 988.2L528.1 993.2L538.9 998L549.8 1002.9L560.8 1007.9L571.8 1012.8L582.9 1017.8L594 1022.9L605.2 1028.1L616.5 1033.4L627.7 1038.6L639.1 1043.9L650.5 1049.3L661.9 1055.1L673.4 1060.8L685 1066.6L696.6 1072.3L708.3 1078L720 1083.6L731.8 1089.3L743.6 1095.2L755.5 1101.2L767.4 1107.5L779.4 1113.9L791.5 1120.3L803.6 1127.3L815.8 1134.3L828 1142.6L840.3 1150.9L852.6 1160M325 1321.8L326 1319.3L327.4 1315.7L340.9 1283.1L350.9 1260.1L360.9 1237.6L371 1215.9L381.1 1194.8L391.3 1174.3L401.5 1154.4L411.8 1135.2L422.1 1116.7L432.5 1098.2L442.9 1080.1L453.4 1062.5L463.9 1045.4L474.5 1028.9L485.1 1012.4L495.8 996.4L506.5 981L517.2 966L528.1 951.6L538.9 937.6L549.8 924.1L560.8 911.2L571.8 898.8L582.9 886.9L594 875.8L605.2 865.4L616.5 855.6L627.7 846.4L639.1 837.8L650.5 830.1L661.9 823.5L673.4 817.6L685 812.5L696.6 807.9L708.3 803.8L720 800.4L731.8 797.7L743.6 796.2L755.5 795.6L767.4 796.6L779.4 798.5L791.5 801.3L803.6 806.3L815.8 812.4L828 822.7L840.3 834.4L852.6 849.4" stroke="#a8f4ea" stroke-width="1.3" fill="none"/>
<polygon points="325,862.1 330.4,867.5 325,872.9 319.6,867.5" fill="#62f2dc"/><polygon points="326,863.4 331.4,868.8 326,874.1 320.6,868.8" fill="#62f2dc"/><polygon points="327.4,864.6 332.8,870 327.4,875.4 322,870" fill="#62f2dc"/><polygon points="340.9,878.1 346.3,883.5 340.9,888.9 335.5,883.5" fill="#62f2dc"/><polygon points="350.9,886.9 356.3,892.3 350.9,897.7 345.5,892.3" fill="#62f2dc"/><polygon points="360.9,894.3 366.3,899.7 360.9,905.1 355.5,899.7" fill="#62f2dc"/><polygon points="371,901.7 376.4,907.1 371,912.5 365.6,907.1" fill="#62f2dc"/><polygon points="381.1,908.9 386.5,914.3 381.1,919.7 375.7,914.3" fill="#62f2dc"/><polygon points="391.3,915.6 396.7,921 391.3,926.4 385.9,921" fill="#62f2dc"/><polygon points="401.5,922.3 406.9,927.7 401.5,933.1 396.1,927.7" fill="#62f2dc"/><polygon points="411.8,929 417.2,934.4 411.8,939.8 406.4,934.4" fill="#62f2dc"/><polygon points="422.1,935.8 427.5,941.2 422.1,946.6 416.7,941.2" fill="#62f2dc"/><polygon points="432.5,941.6 437.9,947 432.5,952.4 427.1,947" fill="#62f2dc"/><polygon points="442.9,947 448.3,952.4 442.9,957.8 437.5,952.4" fill="#62f2dc"/><polygon points="453.4,952.4 458.8,957.8 453.4,963.2 448,957.8" fill="#62f2dc"/><polygon points="463.9,957.8 469.3,963.2 463.9,968.6 458.5,963.2" fill="#62f2dc"/><polygon points="474.5,963.2 479.9,968.6 474.5,974 469.1,968.6" fill="#62f2dc"/><polygon points="485.1,968 490.5,973.4 485.1,978.8 479.7,973.4" fill="#62f2dc"/><polygon points="495.8,972.9 501.2,978.3 495.8,983.7 490.4,978.3" fill="#62f2dc"/><polygon points="506.5,977.9 511.9,983.3 506.5,988.7 501.1,983.3" fill="#62f2dc"/><polygon points="517.2,982.8 522.6,988.2 517.2,993.6 511.8,988.2" fill="#62f2dc"/><polygon points="528.1,987.8 533.5,993.2 528.1,998.6 522.7,993.2" fill="#62f2dc"/><polygon points="538.9,992.6 544.3,998 538.9,1003.4 533.5,998" fill="#62f2dc"/><polygon points="549.8,997.5 555.2,1002.9 549.8,1008.3 544.4,1002.9" fill="#62f2dc"/><polygon points="560.8,1002.5 566.2,1007.9 560.8,1013.3 555.4,1007.9" fill="#62f2dc"/><polygon points="571.8,1007.4 577.2,1012.8 571.8,1018.2 566.4,1012.8" fill="#62f2dc"/><polygon points="582.9,1012.4 588.3,1017.8 582.9,1023.2 577.5,1017.8" fill="#62f2dc"/><polygon points="594,1017.5 599.4,1022.9 594,1028.3 588.6,1022.9" fill="#62f2dc"/><polygon points="605.2,1022.7 610.6,1028.1 605.2,1033.5 599.8,1028.1" fill="#62f2dc"/><polygon points="616.5,1028 621.9,1033.4 616.5,1038.8 611.1,1033.4" fill="#62f2dc"/><polygon points="627.7,1033.2 633.1,1038.6 627.7,1044 622.3,1038.6" fill="#62f2dc"/><polygon points="639.1,1038.5 644.5,1043.9 639.1,1049.3 633.7,1043.9" fill="#62f2dc"/><polygon points="650.5,1043.9 655.9,1049.3 650.5,1054.7 645.1,1049.3" fill="#62f2dc"/><polygon points="661.9,1049.7 667.3,1055.1 661.9,1060.5 656.5,1055.1" fill="#62f2dc"/><polygon points="673.4,1055.4 678.8,1060.8 673.4,1066.2 668,1060.8" fill="#62f2dc"/><polygon points="685,1061.2 690.4,1066.6 685,1072 679.6,1066.6" fill="#62f2dc"/><polygon points="696.6,1066.9 702,1072.3 696.6,1077.7 691.2,1072.3" fill="#62f2dc"/><polygon points="708.3,1072.6 713.7,1078 708.3,1083.4 702.9,1078" fill="#62f2dc"/><polygon points="720,1078.2 725.4,1083.6 720,1089 714.6,1083.6" fill="#62f2dc"/><polygon points="731.8,1083.9 737.2,1089.3 731.8,1094.7 726.4,1089.3" fill="#62f2dc"/><polygon points="743.6,1089.8 749,1095.2 743.6,1100.6 738.2,1095.2" fill="#62f2dc"/><polygon points="755.5,1095.8 760.9,1101.2 755.5,1106.6 750.1,1101.2" fill="#62f2dc"/><polygon points="767.4,1102.1 772.8,1107.5 767.4,1112.9 762,1107.5" fill="#62f2dc"/><polygon points="779.4,1108.5 784.8,1113.9 779.4,1119.3 774,1113.9" fill="#62f2dc"/><polygon points="791.5,1114.9 796.9,1120.3 791.5,1125.7 786.1,1120.3" fill="#62f2dc"/><polygon points="803.6,1121.9 809,1127.3 803.6,1132.7 798.2,1127.3" fill="#62f2dc"/><polygon points="815.8,1128.9 821.2,1134.3 815.8,1139.7 810.4,1134.3" fill="#62f2dc"/><polygon points="828,1137.2 833.4,1142.6 828,1148 822.6,1142.6" fill="#62f2dc"/><polygon points="840.3,1145.5 845.7,1150.9 840.3,1156.3 834.9,1150.9" fill="#62f2dc"/><polygon points="852.6,1154.6 858,1160 852.6,1165.4 847.2,1160" fill="#62f2dc"/><polygon points="325,1316.4 330.4,1321.8 325,1327.2 319.6,1321.8" fill="#62f2dc"/><polygon points="326,1313.9 331.4,1319.3 326,1324.7 320.6,1319.3" fill="#62f2dc"/><polygon points="327.4,1310.3 332.8,1315.7 327.4,1321.1 322,1315.7" fill="#62f2dc"/><polygon points="340.9,1277.7 346.3,1283.1 340.9,1288.5 335.5,1283.1" fill="#62f2dc"/><polygon points="350.9,1254.7 356.3,1260.1 350.9,1265.5 345.5,1260.1" fill="#62f2dc"/><polygon points="360.9,1232.2 366.3,1237.6 360.9,1243 355.5,1237.6" fill="#62f2dc"/><polygon points="371,1210.5 376.4,1215.9 371,1221.3 365.6,1215.9" fill="#62f2dc"/><polygon points="381.1,1189.4 386.5,1194.8 381.1,1200.2 375.7,1194.8" fill="#62f2dc"/><polygon points="391.3,1168.9 396.7,1174.3 391.3,1179.7 385.9,1174.3" fill="#62f2dc"/><polygon points="401.5,1149 406.9,1154.4 401.5,1159.8 396.1,1154.4" fill="#62f2dc"/><polygon points="411.8,1129.8 417.2,1135.2 411.8,1140.6 406.4,1135.2" fill="#62f2dc"/><polygon points="422.1,1111.3 427.5,1116.7 422.1,1122.1 416.7,1116.7" fill="#62f2dc"/><polygon points="432.5,1092.8 437.9,1098.2 432.5,1103.6 427.1,1098.2" fill="#62f2dc"/><polygon points="442.9,1074.7 448.3,1080.1 442.9,1085.5 437.5,1080.1" fill="#62f2dc"/><polygon points="453.4,1057.1 458.8,1062.5 453.4,1067.9 448,1062.5" fill="#62f2dc"/><polygon points="463.9,1040 469.3,1045.4 463.9,1050.8 458.5,1045.4" fill="#62f2dc"/><polygon points="474.5,1023.5 479.9,1028.9 474.5,1034.3 469.1,1028.9" fill="#62f2dc"/><polygon points="485.1,1007 490.5,1012.4 485.1,1017.8 479.7,1012.4" fill="#62f2dc"/><polygon points="495.8,991 501.2,996.4 495.8,1001.8 490.4,996.4" fill="#62f2dc"/><polygon points="506.5,975.6 511.9,981 506.5,986.4 501.1,981" fill="#62f2dc"/><polygon points="517.2,960.6 522.6,966 517.2,971.4 511.8,966" fill="#62f2dc"/><polygon points="528.1,946.2 533.5,951.6 528.1,957 522.7,951.6" fill="#62f2dc"/><polygon points="538.9,932.2 544.3,937.6 538.9,943 533.5,937.6" fill="#62f2dc"/><polygon points="549.8,918.7 555.2,924.1 549.8,929.5 544.4,924.1" fill="#62f2dc"/><polygon points="560.8,905.8 566.2,911.2 560.8,916.6 555.4,911.2" fill="#62f2dc"/><polygon points="571.8,893.4 577.2,898.8 571.8,904.2 566.4,898.8" fill="#62f2dc"/><polygon points="582.9,881.5 588.3,886.9 582.9,892.3 577.5,886.9" fill="#62f2dc"/><polygon points="594,870.4 599.4,875.8 594,881.2 588.6,875.8" fill="#62f2dc"/><polygon points="605.2,860 610.6,865.4 605.2,870.8 599.8,865.4" fill="#62f2dc"/><polygon points="616.5,850.2 621.9,855.6 616.5,861 611.1,855.6" fill="#62f2dc"/><polygon points="627.7,841 633.1,846.4 627.7,851.8 622.3,846.4" fill="#62f2dc"/><polygon points="639.1,832.4 644.5,837.8 639.1,843.2 633.7,837.8" fill="#62f2dc"/><polygon points="650.5,824.7 655.9,830.1 650.5,835.5 645.1,830.1" fill="#62f2dc"/><polygon points="661.9,818.1 667.3,823.5 661.9,828.9 656.5,823.5" fill="#62f2dc"/><polygon points="673.4,812.2 678.8,817.6 673.4,823 668,817.6" fill="#62f2dc"/><polygon points="685,807.1 690.4,812.5 685,817.9 679.6,812.5" fill="#62f2dc"/><polygon points="696.6,802.5 702,807.9 696.6,813.3 691.2,807.9" fill="#62f2dc"/><polygon points="708.3,798.4 713.7,803.8 708.3,809.2 702.9,803.8" fill="#62f2dc"/><polygon points="720,795 725.4,800.4 720,805.8 714.6,800.4" fill="#62f2dc"/><polygon points="731.8,792.3 737.2,797.7 731.8,803.1 726.4,797.7" fill="#62f2dc"/><polygon points="743.6,790.8 749,796.2 743.6,801.6 738.2,796.2" fill="#62f2dc"/><polygon points="755.5,790.2 760.9,795.6 755.5,801 750.1,795.6" fill="#62f2dc"/><polygon points="767.4,791.2 772.8,796.6 767.4,802 762,796.6" fill="#62f2dc"/><polygon points="779.4,793.1 784.8,798.5 779.4,803.9 774,798.5" fill="#62f2dc"/><polygon points="791.5,795.9 796.9,801.3 791.5,806.7 786.1,801.3" fill="#62f2dc"/><polygon points="803.6,800.9 809,806.3 803.6,811.7 798.2,806.3" fill="#62f2dc"/><polygon points="815.8,807 821.2,812.4 815.8,817.8 810.4,812.4" fill="#62f2dc"/><polygon points="828,817.3 833.4,822.7 828,828.1 822.6,822.7" fill="#62f2dc"/><polygon points="840.3,829 845.7,834.4 840.3,839.8 834.9,834.4" fill="#62f2dc"/><polygon points="852.6,844 858,849.4 852.6,854.8 847.2,849.4" fill="#62f2dc"/>
<path d="M325 829.6L325.4 841.6L325.8 850.7L326.4 859.7L327.2 866.9L328.2 871.8L331.1 873.2L341 886.3L351 896.5L361.1 904.8L371.1 913.2L381.3 921.1L391.4 928L401.7 935L411.9 942L422.3 949L432.6 955.4L443 961.4L453.5 967.4L464 973.5L474.6 979.5L485.2 984.6L495.9 989.8L506.6 994.9L517.4 1000.1L528.2 1005.4L539.1 1011.2L550 1017L560.9 1022.8L572 1028.6L583 1034.5L594.2 1040.8L605.4 1047.5L616.6 1054.1L627.9 1060.8L639.2 1067.5L650.6 1074L662.1 1080.2L673.6 1086.3L685.1 1092.5L696.7 1098.9L708.4 1105.6L720.1 1112.3L731.9 1119.4L743.7 1128.8L755.6 1138.1L767.6 1146.4L779.6 1154.7L791.6 1163M325 1321.8L325.4 1320.7L325.8 1319.7L326.4 1318.2L327.2 1316.2L328.2 1313.8L331.1 1306.6L341 1283L351 1260.4L361.1 1238.4L371.1 1217.2L381.3 1196.7L391.4 1176.6L401.7 1157.2L411.9 1138.6L422.3 1120.6L432.6 1103L443 1085.7L453.5 1069.1L464 1053.1L474.6 1037.7L485.2 1022.1L495.9 1007L506.6 992.5L517.4 978.5L528.2 965.2L539.1 953L550 941.4L560.9 930.5L572 920.2L583 910.6L594.2 902.4L605.4 895.3L616.6 889L627.9 883.6L639.2 878.9L650.6 874.6L662.1 870.4L673.6 866.9L685.1 864.3L696.7 862.6L708.4 862.5L720.1 863.3L731.9 865.6L743.7 874.2L755.6 883.9L767.6 892.1L779.6 901.4L791.6 911.9" stroke="#9aa0f0" stroke-width="1.3" fill="none"/>
<polygon points="325,835 330.4,825.5 319.6,825.5" fill="#1a2aff"/><polygon points="325.4,847 330.8,837.6 320,837.6" fill="#1a2aff"/><polygon points="325.8,856.1 331.2,846.6 320.4,846.6" fill="#1a2aff"/><polygon points="326.4,865.1 331.8,855.7 321,855.7" fill="#1a2aff"/><polygon points="327.2,872.3 332.6,862.9 321.8,862.9" fill="#1a2aff"/><polygon points="328.2,877.2 333.6,867.7 322.8,867.7" fill="#1a2aff"/><polygon points="331.1,878.6 336.5,869.1 325.7,869.1" fill="#1a2aff"/><polygon points="341,891.7 346.4,882.2 335.6,882.2" fill="#1a2aff"/><polygon points="351,901.9 356.4,892.5 345.6,892.5" fill="#1a2aff"/><polygon points="361.1,910.2 366.5,900.8 355.7,900.8" fill="#1a2aff"/><polygon points="371.1,918.6 376.5,909.1 365.7,909.1" fill="#1a2aff"/><polygon points="381.3,926.5 386.7,917 375.9,917" fill="#1a2aff"/><polygon points="391.4,933.4 396.8,924 386,924" fill="#1a2aff"/><polygon points="401.7,940.4 407.1,930.9 396.3,930.9" fill="#1a2aff"/><polygon points="411.9,947.4 417.3,938 406.5,938" fill="#1a2aff"/><polygon points="422.3,954.4 427.7,945 416.9,945" fill="#1a2aff"/><polygon points="432.6,960.8 438,951.3 427.2,951.3" fill="#1a2aff"/><polygon points="443,966.8 448.4,957.3 437.6,957.3" fill="#1a2aff"/><polygon points="453.5,972.8 458.9,963.4 448.1,963.4" fill="#1a2aff"/><polygon points="464,978.9 469.4,969.4 458.6,969.4" fill="#1a2aff"/><polygon points="474.6,984.9 480,975.5 469.2,975.5" fill="#1a2aff"/><polygon points="485.2,990 490.6,980.6 479.8,980.6" fill="#1a2aff"/><polygon points="495.9,995.2 501.3,985.7 490.5,985.7" fill="#1a2aff"/><polygon points="506.6,1000.3 512,990.9 501.2,990.9" fill="#1a2aff"/><polygon points="517.4,1005.5 522.8,996.1 512,996.1" fill="#1a2aff"/><polygon points="528.2,1010.8 533.6,1001.4 522.8,1001.4" fill="#1a2aff"/><polygon points="539.1,1016.6 544.5,1007.1 533.7,1007.1" fill="#1a2aff"/><polygon points="550,1022.4 555.4,1012.9 544.6,1012.9" fill="#1a2aff"/><polygon points="560.9,1028.2 566.3,1018.7 555.5,1018.7" fill="#1a2aff"/><polygon points="572,1034 577.4,1024.5 566.6,1024.5" fill="#1a2aff"/><polygon points="583,1039.9 588.4,1030.4 577.6,1030.4" fill="#1a2aff"/><polygon points="594.2,1046.2 599.6,1036.8 588.8,1036.8" fill="#1a2aff"/><polygon points="605.4,1052.9 610.8,1043.4 600,1043.4" fill="#1a2aff"/><polygon points="616.6,1059.5 622,1050.1 611.2,1050.1" fill="#1a2aff"/><polygon points="627.9,1066.2 633.3,1056.8 622.5,1056.8" fill="#1a2aff"/><polygon points="639.2,1072.9 644.6,1063.5 633.8,1063.5" fill="#1a2aff"/><polygon points="650.6,1079.4 656,1070 645.2,1070" fill="#1a2aff"/><polygon points="662.1,1085.6 667.5,1076.1 656.7,1076.1" fill="#1a2aff"/><polygon points="673.6,1091.7 679,1082.3 668.2,1082.3" fill="#1a2aff"/><polygon points="685.1,1097.9 690.5,1088.5 679.7,1088.5" fill="#1a2aff"/><polygon points="696.7,1104.3 702.1,1094.8 691.3,1094.8" fill="#1a2aff"/><polygon points="708.4,1111 713.8,1101.5 703,1101.5" fill="#1a2aff"/><polygon points="720.1,1117.7 725.5,1108.3 714.7,1108.3" fill="#1a2aff"/><polygon points="731.9,1124.8 737.3,1115.4 726.5,1115.4" fill="#1a2aff"/><polygon points="743.7,1134.2 749.1,1124.7 738.3,1124.7" fill="#1a2aff"/><polygon points="755.6,1143.5 761,1134.1 750.2,1134.1" fill="#1a2aff"/><polygon points="767.6,1151.8 773,1142.3 762.2,1142.3" fill="#1a2aff"/><polygon points="779.6,1160.1 785,1150.6 774.2,1150.6" fill="#1a2aff"/><polygon points="791.6,1168.4 797,1159 786.2,1159" fill="#1a2aff"/><polygon points="325,1327.2 330.4,1317.8 319.6,1317.8" fill="#1a2aff"/><polygon points="325.4,1326.1 330.8,1316.7 320,1316.7" fill="#1a2aff"/><polygon points="325.8,1325.1 331.2,1315.6 320.4,1315.6" fill="#1a2aff"/><polygon points="326.4,1323.6 331.8,1314.1 321,1314.1" fill="#1a2aff"/><polygon points="327.2,1321.6 332.6,1312.2 321.8,1312.2" fill="#1a2aff"/><polygon points="328.2,1319.2 333.6,1309.7 322.8,1309.7" fill="#1a2aff"/><polygon points="331.1,1312 336.5,1302.6 325.7,1302.6" fill="#1a2aff"/><polygon points="341,1288.4 346.4,1279 335.6,1279" fill="#1a2aff"/><polygon points="351,1265.8 356.4,1256.3 345.6,1256.3" fill="#1a2aff"/><polygon points="361.1,1243.8 366.5,1234.3 355.7,1234.3" fill="#1a2aff"/><polygon points="371.1,1222.6 376.5,1213.1 365.7,1213.1" fill="#1a2aff"/><polygon points="381.3,1202.1 386.7,1192.6 375.9,1192.6" fill="#1a2aff"/><polygon points="391.4,1182 396.8,1172.6 386,1172.6" fill="#1a2aff"/><polygon points="401.7,1162.6 407.1,1153.2 396.3,1153.2" fill="#1a2aff"/><polygon points="411.9,1144 417.3,1134.5 406.5,1134.5" fill="#1a2aff"/><polygon points="422.3,1126 427.7,1116.6 416.9,1116.6" fill="#1a2aff"/><polygon points="432.6,1108.4 438,1098.9 427.2,1098.9" fill="#1a2aff"/><polygon points="443,1091.1 448.4,1081.7 437.6,1081.7" fill="#1a2aff"/><polygon points="453.5,1074.5 458.9,1065.1 448.1,1065.1" fill="#1a2aff"/><polygon points="464,1058.5 469.4,1049.1 458.6,1049.1" fill="#1a2aff"/><polygon points="474.6,1043.1 480,1033.7 469.2,1033.7" fill="#1a2aff"/><polygon points="485.2,1027.5 490.6,1018.1 479.8,1018.1" fill="#1a2aff"/><polygon points="495.9,1012.4 501.3,1003 490.5,1003" fill="#1a2aff"/><polygon points="506.6,997.9 512,988.5 501.2,988.5" fill="#1a2aff"/><polygon points="517.4,983.9 522.8,974.5 512,974.5" fill="#1a2aff"/><polygon points="528.2,970.6 533.6,961.2 522.8,961.2" fill="#1a2aff"/><polygon points="539.1,958.4 544.5,949 533.7,949" fill="#1a2aff"/><polygon points="550,946.8 555.4,937.4 544.6,937.4" fill="#1a2aff"/><polygon points="560.9,935.9 566.3,926.4 555.5,926.4" fill="#1a2aff"/><polygon points="572,925.6 577.4,916.2 566.6,916.2" fill="#1a2aff"/><polygon points="583,916 588.4,906.6 577.6,906.6" fill="#1a2aff"/><polygon points="594.2,907.8 599.6,898.4 588.8,898.4" fill="#1a2aff"/><polygon points="605.4,900.7 610.8,891.3 600,891.3" fill="#1a2aff"/><polygon points="616.6,894.4 622,885 611.2,885" fill="#1a2aff"/><polygon points="627.9,889 633.3,879.5 622.5,879.5" fill="#1a2aff"/><polygon points="639.2,884.3 644.6,874.9 633.8,874.9" fill="#1a2aff"/><polygon points="650.6,880 656,870.5 645.2,870.5" fill="#1a2aff"/><polygon points="662.1,875.8 667.5,866.3 656.7,866.3" fill="#1a2aff"/><polygon points="673.6,872.3 679,862.9 668.2,862.9" fill="#1a2aff"/><polygon points="685.1,869.7 690.5,860.2 679.7,860.2" fill="#1a2aff"/><polygon points="696.7,868 702.1,858.6 691.3,858.6" fill="#1a2aff"/><polygon points="708.4,867.9 713.8,858.5 703,858.5" fill="#1a2aff"/><polygon points="720.1,868.7 725.5,859.3 714.7,859.3" fill="#1a2aff"/><polygon points="731.9,871 737.3,861.6 726.5,861.6" fill="#1a2aff"/><polygon points="743.7,879.6 749.1,870.2 738.3,870.2" fill="#1a2aff"/><polygon points="755.6,889.3 761,879.8 750.2,879.8" fill="#1a2aff"/><polygon points="767.6,897.5 773,888 762.2,888" fill="#1a2aff"/><polygon points="779.6,906.8 785,897.3 774.2,897.3" fill="#1a2aff"/><polygon points="791.6,917.3 797,907.8 786.2,907.8" fill="#1a2aff"/>
<path d="M325 784.9L325.6 814.5L326.2 838.6L327 853.7L328 862.7L333.9 879.2L343.8 892.3L353.8 901.3L363.9 909.6L374 917.9L384.1 925.4L394.3 932.4L404.5 939.4L414.8 946.4L425.1 953.4L435.5 959.5L446 965.5L456.4 971.5L467 977.6L477.6 983.3L488.2 988.5L498.9 993.6L509.6 998.8L520.4 1004L531.2 1009.4L542.1 1015.2L553 1021L564 1026.8L575.1 1032.6L586.1 1038.5L597.3 1045.1L608.5 1051.7L619.7 1058.4L631 1065.1L642.4 1071.8L653.8 1078.1L665.3 1084.3L676.8 1090.5L688.4 1096.7L700 1103.2L711.7 1109.9L723.4 1116.6L735.2 1124.5L747 1134.1L758.9 1143.3L770.9 1151.8L782.9 1160.2L795 1167.4L807.1 1171.1M325 1321.8L325.6 1320.1L326.2 1318.6L327 1316.6L328 1314.1L333.9 1300L343.8 1277L353.8 1254.5L363.9 1232.9L374 1212.1L384.1 1191.8L394.3 1172.1L404.5 1153L414.8 1134.7L425.1 1117.1L435.5 1099.6L446 1082.7L456.4 1066.4L467 1050.7L477.6 1035.4L488.2 1020L498.9 1005.3L509.6 991L520.4 977.4L531.2 964.5L542.1 952.6L553 941.4L564 930.8L575.1 920.8L586.1 911.6L597.3 904L608.5 897.3L619.7 891.4L631 886.3L642.4 882L653.8 877.7L665.3 873.9L676.8 870.8L688.4 868.5L700 867.5L711.7 867.9L723.4 869.1L735.2 873.7L747 883.2L758.9 893L770.9 902.1L782.9 912.4L795 920.4L807.1 920" stroke="#a8f890" stroke-width="1.3" fill="none"/>
<polygon points="325,779.5 330.4,789 319.6,789" fill="#4cff00"/><polygon points="325.6,809.1 331,818.5 320.2,818.5" fill="#4cff00"/><polygon points="326.2,833.2 331.6,842.6 320.8,842.6" fill="#4cff00"/><polygon points="327,848.3 332.4,857.7 321.6,857.7" fill="#4cff00"/><polygon points="328,857.3 333.4,866.8 322.6,866.8" fill="#4cff00"/><polygon points="333.9,873.8 339.3,883.3 328.5,883.3" fill="#4cff00"/><polygon points="343.8,886.9 349.2,896.4 338.4,896.4" fill="#4cff00"/><polygon points="353.8,895.9 359.2,905.3 348.4,905.3" fill="#4cff00"/><polygon points="363.9,904.2 369.3,913.6 358.5,913.6" fill="#4cff00"/><polygon points="374,912.5 379.4,922 368.6,922" fill="#4cff00"/><polygon points="384.1,920 389.5,929.5 378.7,929.5" fill="#4cff00"/><polygon points="394.3,927 399.7,936.4 388.9,936.4" fill="#4cff00"/><polygon points="404.5,934 409.9,943.4 399.1,943.4" fill="#4cff00"/><polygon points="414.8,941 420.2,950.4 409.4,950.4" fill="#4cff00"/><polygon points="425.1,948 430.5,957.5 419.7,957.5" fill="#4cff00"/><polygon points="435.5,954.1 440.9,963.5 430.1,963.5" fill="#4cff00"/><polygon points="446,960.1 451.4,969.5 440.6,969.5" fill="#4cff00"/><polygon points="456.4,966.1 461.8,975.6 451,975.6" fill="#4cff00"/><polygon points="467,972.2 472.4,981.6 461.6,981.6" fill="#4cff00"/><polygon points="477.6,977.9 483,987.4 472.2,987.4" fill="#4cff00"/><polygon points="488.2,983.1 493.6,992.5 482.8,992.5" fill="#4cff00"/><polygon points="498.9,988.2 504.3,997.7 493.5,997.7" fill="#4cff00"/><polygon points="509.6,993.4 515,1002.8 504.2,1002.8" fill="#4cff00"/><polygon points="520.4,998.6 525.8,1008 515,1008" fill="#4cff00"/><polygon points="531.2,1004 536.6,1013.5 525.8,1013.5" fill="#4cff00"/><polygon points="542.1,1009.8 547.5,1019.2 536.7,1019.2" fill="#4cff00"/><polygon points="553,1015.6 558.4,1025 547.6,1025" fill="#4cff00"/><polygon points="564,1021.4 569.4,1030.8 558.6,1030.8" fill="#4cff00"/><polygon points="575.1,1027.2 580.5,1036.7 569.7,1036.7" fill="#4cff00"/><polygon points="586.1,1033.1 591.5,1042.6 580.7,1042.6" fill="#4cff00"/><polygon points="597.3,1039.7 602.7,1049.1 591.9,1049.1" fill="#4cff00"/><polygon points="608.5,1046.3 613.9,1055.8 603.1,1055.8" fill="#4cff00"/><polygon points="619.7,1053 625.1,1062.4 614.3,1062.4" fill="#4cff00"/><polygon points="631,1059.7 636.4,1069.1 625.6,1069.1" fill="#4cff00"/><polygon points="642.4,1066.4 647.8,1075.9 637,1075.9" fill="#4cff00"/><polygon points="653.8,1072.7 659.2,1082.2 648.4,1082.2" fill="#4cff00"/><polygon points="665.3,1078.9 670.7,1088.3 659.9,1088.3" fill="#4cff00"/><polygon points="676.8,1085.1 682.2,1094.5 671.4,1094.5" fill="#4cff00"/><polygon points="688.4,1091.3 693.8,1100.7 683,1100.7" fill="#4cff00"/><polygon points="700,1097.8 705.4,1107.2 694.6,1107.2" fill="#4cff00"/><polygon points="711.7,1104.5 717.1,1113.9 706.3,1113.9" fill="#4cff00"/><polygon points="723.4,1111.2 728.8,1120.7 718,1120.7" fill="#4cff00"/><polygon points="735.2,1119.1 740.6,1128.6 729.8,1128.6" fill="#4cff00"/><polygon points="747,1128.7 752.4,1138.1 741.6,1138.1" fill="#4cff00"/><polygon points="758.9,1137.9 764.3,1147.4 753.5,1147.4" fill="#4cff00"/><polygon points="770.9,1146.4 776.3,1155.8 765.5,1155.8" fill="#4cff00"/><polygon points="782.9,1154.8 788.3,1164.3 777.5,1164.3" fill="#4cff00"/><polygon points="795,1162 800.4,1171.5 789.6,1171.5" fill="#4cff00"/><polygon points="807.1,1165.7 812.5,1175.2 801.7,1175.2" fill="#4cff00"/><polygon points="325,1316.4 330.4,1325.8 319.6,1325.8" fill="#4cff00"/><polygon points="325.6,1314.7 331,1324.1 320.2,1324.1" fill="#4cff00"/><polygon points="326.2,1313.2 331.6,1322.6 320.8,1322.6" fill="#4cff00"/><polygon points="327,1311.2 332.4,1320.6 321.6,1320.6" fill="#4cff00"/><polygon points="328,1308.7 333.4,1318.2 322.6,1318.2" fill="#4cff00"/><polygon points="333.9,1294.6 339.3,1304.1 328.5,1304.1" fill="#4cff00"/><polygon points="343.8,1271.6 349.2,1281 338.4,1281" fill="#4cff00"/><polygon points="353.8,1249.1 359.2,1258.6 348.4,1258.6" fill="#4cff00"/><polygon points="363.9,1227.5 369.3,1236.9 358.5,1236.9" fill="#4cff00"/><polygon points="374,1206.7 379.4,1216.1 368.6,1216.1" fill="#4cff00"/><polygon points="384.1,1186.4 389.5,1195.9 378.7,1195.9" fill="#4cff00"/><polygon points="394.3,1166.7 399.7,1176.1 388.9,1176.1" fill="#4cff00"/><polygon points="404.5,1147.6 409.9,1157.1 399.1,1157.1" fill="#4cff00"/><polygon points="414.8,1129.3 420.2,1138.8 409.4,1138.8" fill="#4cff00"/><polygon points="425.1,1111.7 430.5,1121.2 419.7,1121.2" fill="#4cff00"/><polygon points="435.5,1094.2 440.9,1103.6 430.1,1103.6" fill="#4cff00"/><polygon points="446,1077.3 451.4,1086.7 440.6,1086.7" fill="#4cff00"/><polygon points="456.4,1061 461.8,1070.4 451,1070.4" fill="#4cff00"/><polygon points="467,1045.3 472.4,1054.7 461.6,1054.7" fill="#4cff00"/><polygon points="477.6,1030 483,1039.4 472.2,1039.4" fill="#4cff00"/><polygon points="488.2,1014.6 493.6,1024.1 482.8,1024.1" fill="#4cff00"/><polygon points="498.9,999.9 504.3,1009.3 493.5,1009.3" fill="#4cff00"/><polygon points="509.6,985.6 515,995.1 504.2,995.1" fill="#4cff00"/><polygon points="520.4,972 525.8,981.4 515,981.4" fill="#4cff00"/><polygon points="531.2,959.1 536.6,968.6 525.8,968.6" fill="#4cff00"/><polygon points="542.1,947.2 547.5,956.7 536.7,956.7" fill="#4cff00"/><polygon points="553,936 558.4,945.4 547.6,945.4" fill="#4cff00"/><polygon points="564,925.4 569.4,934.8 558.6,934.8" fill="#4cff00"/><polygon points="575.1,915.4 580.5,924.9 569.7,924.9" fill="#4cff00"/><polygon points="586.1,906.2 591.5,915.6 580.7,915.6" fill="#4cff00"/><polygon points="597.3,898.6 602.7,908.1 591.9,908.1" fill="#4cff00"/><polygon points="608.5,891.9 613.9,901.4 603.1,901.4" fill="#4cff00"/><polygon points="619.7,886 625.1,895.4 614.3,895.4" fill="#4cff00"/><polygon points="631,880.9 636.4,890.3 625.6,890.3" fill="#4cff00"/><polygon points="642.4,876.6 647.8,886.1 637,886.1" fill="#4cff00"/><polygon points="653.8,872.3 659.2,881.8 648.4,881.8" fill="#4cff00"/><polygon points="665.3,868.5 670.7,877.9 659.9,877.9" fill="#4cff00"/><polygon points="676.8,865.4 682.2,874.9 671.4,874.9" fill="#4cff00"/><polygon points="688.4,863.1 693.8,872.6 683,872.6" fill="#4cff00"/><polygon points="700,862.1 705.4,871.6 694.6,871.6" fill="#4cff00"/><polygon points="711.7,862.5 717.1,871.9 706.3,871.9" fill="#4cff00"/><polygon points="723.4,863.7 728.8,873.1 718,873.1" fill="#4cff00"/><polygon points="735.2,868.3 740.6,877.7 729.8,877.7" fill="#4cff00"/><polygon points="747,877.8 752.4,887.2 741.6,887.2" fill="#4cff00"/><polygon points="758.9,887.6 764.3,897.1 753.5,897.1" fill="#4cff00"/><polygon points="770.9,896.7 776.3,906.2 765.5,906.2" fill="#4cff00"/><polygon points="782.9,907 788.3,916.5 777.5,916.5" fill="#4cff00"/><polygon points="795,915 800.4,924.5 789.6,924.5" fill="#4cff00"/><polygon points="807.1,914.6 812.5,924.1 801.7,924.1" fill="#4cff00"/>
<path d="M325 820.5L325.4 832.6L325.8 841.6L326.4 850.7L327.2 857.9L328.2 862.7L334.6 882.6L344.5 895.7L354.6 904.3L364.6 912.6L374.7 920.9L384.8 928.3L395 935.3L405.3 942.3L415.6 949.3L425.9 956.3L436.3 962.3L446.7 968.3L457.2 974.4L467.7 980.5L478.3 986.1L489 991.3L499.6 996.4L510.4 1001.6L521.2 1006.8L532 1012.3L542.9 1018L553.8 1023.8L564.8 1029.6L575.9 1035.5L587 1041.4L598.1 1048L609.3 1054.6L620.6 1061.3L631.9 1068.3L643.2 1075.7L654.6 1082.7L666.1 1089.5L677.6 1096.4L689.2 1103.3L700.8 1110.5L712.5 1117.9L724.3 1125.4L736.1 1134.1M325 1321.8L325.4 1320.7L325.8 1319.7L326.4 1318.1L327.2 1316.1L328.2 1313.6L334.6 1298.4L344.5 1275.6L354.6 1253.3L364.6 1231.9L374.7 1211.2L384.8 1191.1L395 1171.6L405.3 1152.7L415.6 1134.6L425.9 1117.2L436.3 1099.8L446.7 1083.1L457.2 1067L467.7 1051.5L478.3 1036.3L489 1021.1L499.6 1006.6L510.4 992.5L521.2 979L532 966.4L542.9 954.7L553.8 943.6L564.8 933.2L575.9 923.5L587 914.5L598.1 907.2L609.3 900.7L620.6 895L631.9 890.6L643.2 887.7L654.6 884.9L666.1 882.7L677.6 881.3L689.2 880.8L700.8 881.8L712.5 884.2L724.3 887.5L736.1 894.5" stroke="#f4a0c8" stroke-width="1.3" fill="none"/>
<circle cx="325" cy="820.5" r="4.4" fill="#ff1010"/><circle cx="325.4" cy="832.6" r="4.4" fill="#ff1010"/><circle cx="325.8" cy="841.6" r="4.4" fill="#ff1010"/><circle cx="326.4" cy="850.7" r="4.4" fill="#ff1010"/><circle cx="327.2" cy="857.9" r="4.4" fill="#ff1010"/><circle cx="328.2" cy="862.7" r="4.4" fill="#ff1010"/><circle cx="334.6" cy="882.6" r="4.4" fill="#ff1010"/><circle cx="344.5" cy="895.7" r="4.4" fill="#ff1010"/><circle cx="354.6" cy="904.3" r="4.4" fill="#ff1010"/><circle cx="364.6" cy="912.6" r="4.4" fill="#ff1010"/><circle cx="374.7" cy="920.9" r="4.4" fill="#ff1010"/><circle cx="384.8" cy="928.3" r="4.4" fill="#ff1010"/><circle cx="395" cy="935.3" r="4.4" fill="#ff1010"/><circle cx="405.3" cy="942.3" r="4.4" fill="#ff1010"/><circle cx="415.6" cy="949.3" r="4.4" fill="#ff1010"/><circle cx="425.9" cy="956.3" r="4.4" fill="#ff1010"/><circle cx="436.3" cy="962.3" r="4.4" fill="#ff1010"/><circle cx="446.7" cy="968.3" r="4.4" fill="#ff1010"/><circle cx="457.2" cy="974.4" r="4.4" fill="#ff1010"/><circle cx="467.7" cy="980.5" r="4.4" fill="#ff1010"/><circle cx="478.3" cy="986.1" r="4.4" fill="#ff1010"/><circle cx="489" cy="991.3" r="4.4" fill="#ff1010"/><circle cx="499.6" cy="996.4" r="4.4" fill="#ff1010"/><circle cx="510.4" cy="1001.6" r="4.4" fill="#ff1010"/><circle cx="521.2" cy="1006.8" r="4.4" fill="#ff1010"/><circle cx="532" cy="1012.3" r="4.4" fill="#ff1010"/><circle cx="542.9" cy="1018" r="4.4" fill="#ff1010"/><circle cx="553.8" cy="1023.8" r="4.4" fill="#ff1010"/><circle cx="564.8" cy="1029.6" r="4.4" fill="#ff1010"/><circle cx="575.9" cy="1035.5" r="4.4" fill="#ff1010"/><circle cx="587" cy="1041.4" r="4.4" fill="#ff1010"/><circle cx="598.1" cy="1048" r="4.4" fill="#ff1010"/><circle cx="609.3" cy="1054.6" r="4.4" fill="#ff1010"/><circle cx="620.6" cy="1061.3" r="4.4" fill="#ff1010"/><circle cx="631.9" cy="1068.3" r="4.4" fill="#ff1010"/><circle cx="643.2" cy="1075.7" r="4.4" fill="#ff1010"/><circle cx="654.6" cy="1082.7" r="4.4" fill="#ff1010"/><circle cx="666.1" cy="1089.5" r="4.4" fill="#ff1010"/><circle cx="677.6" cy="1096.4" r="4.4" fill="#ff1010"/><circle cx="689.2" cy="1103.3" r="4.4" fill="#ff1010"/><circle cx="700.8" cy="1110.5" r="4.4" fill="#ff1010"/><circle cx="712.5" cy="1117.9" r="4.4" fill="#ff1010"/><circle cx="724.3" cy="1125.4" r="4.4" fill="#ff1010"/><circle cx="736.1" cy="1134.1" r="4.4" fill="#ff1010"/><circle cx="325" cy="1321.8" r="4.4" fill="#ff1010"/><circle cx="325.4" cy="1320.7" r="4.4" fill="#ff1010"/><circle cx="325.8" cy="1319.7" r="4.4" fill="#ff1010"/><circle cx="326.4" cy="1318.1" r="4.4" fill="#ff1010"/><circle cx="327.2" cy="1316.1" r="4.4" fill="#ff1010"/><circle cx="328.2" cy="1313.6" r="4.4" fill="#ff1010"/><circle cx="334.6" cy="1298.4" r="4.4" fill="#ff1010"/><circle cx="344.5" cy="1275.6" r="4.4" fill="#ff1010"/><circle cx="354.6" cy="1253.3" r="4.4" fill="#ff1010"/><circle cx="364.6" cy="1231.9" r="4.4" fill="#ff1010"/><circle cx="374.7" cy="1211.2" r="4.4" fill="#ff1010"/><circle cx="384.8" cy="1191.1" r="4.4" fill="#ff1010"/><circle cx="395" cy="1171.6" r="4.4" fill="#ff1010"/><circle cx="405.3" cy="1152.7" r="4.4" fill="#ff1010"/><circle cx="415.6" cy="1134.6" r="4.4" fill="#ff1010"/><circle cx="425.9" cy="1117.2" r="4.4" fill="#ff1010"/><circle cx="436.3" cy="1099.8" r="4.4" fill="#ff1010"/><circle cx="446.7" cy="1083.1" r="4.4" fill="#ff1010"/><circle cx="457.2" cy="1067" r="4.4" fill="#ff1010"/><circle cx="467.7" cy="1051.5" r="4.4" fill="#ff1010"/><circle cx="478.3" cy="1036.3" r="4.4" fill="#ff1010"/><circle cx="489" cy="1021.1" r="4.4" fill="#ff1010"/><circle cx="499.6" cy="1006.6" r="4.4" fill="#ff1010"/><circle cx="510.4" cy="992.5" r="4.4" fill="#ff1010"/><circle cx="521.2" cy="979" r="4.4" fill="#ff1010"/><circle cx="532" cy="966.4" r="4.4" fill="#ff1010"/><circle cx="542.9" cy="954.7" r="4.4" fill="#ff1010"/><circle cx="553.8" cy="943.6" r="4.4" fill="#ff1010"/><circle cx="564.8" cy="933.2" r="4.4" fill="#ff1010"/><circle cx="575.9" cy="923.5" r="4.4" fill="#ff1010"/><circle cx="587" cy="914.5" r="4.4" fill="#ff1010"/><circle cx="598.1" cy="907.2" r="4.4" fill="#ff1010"/><circle cx="609.3" cy="900.7" r="4.4" fill="#ff1010"/><circle cx="620.6" cy="895" r="4.4" fill="#ff1010"/><circle cx="631.9" cy="890.6" r="4.4" fill="#ff1010"/><circle cx="643.2" cy="887.7" r="4.4" fill="#ff1010"/><circle cx="654.6" cy="884.9" r="4.4" fill="#ff1010"/><circle cx="666.1" cy="882.7" r="4.4" fill="#ff1010"/><circle cx="677.6" cy="881.3" r="4.4" fill="#ff1010"/><circle cx="689.2" cy="880.8" r="4.4" fill="#ff1010"/><circle cx="700.8" cy="881.8" r="4.4" fill="#ff1010"/><circle cx="712.5" cy="884.2" r="4.4" fill="#ff1010"/><circle cx="724.3" cy="887.5" r="4.4" fill="#ff1010"/><circle cx="736.1" cy="894.5" r="4.4" fill="#ff1010"/>
<path d="M325 826.5L325.4 838.6L325.8 847.6L326.4 856.7L327.2 863.9L328.2 868.8L338.3 889.9L348.3 901.5L358.3 909.8L368.4 918.1L378.5 926.4L388.7 933.4L398.9 940.3L409.1 947.3L419.5 954.4L429.8 961L440.2 967L450.7 973L461.2 979.1L471.7 985.2L482.3 990.5L493 995.6L503.7 1000.8L514.4 1005.9L525.2 1011.2L536.1 1016.8L547 1022.6L558 1028.4L569 1034.2L580 1040.1L591.2 1046.8L602.3 1054.8L613.5 1062.8L624.8 1070.8L636.1 1078.9L647.5 1086.9L659 1100.9L671.4 1113.6L683.5 1129.2L696.2 1154M325 1321.8L325.4 1320.7L325.8 1319.7L326.4 1318.2L327.2 1316.2L328.2 1313.7L338.3 1289.8L348.3 1267.4L358.3 1245.6L368.4 1224.6L378.5 1204.4L388.7 1184.5L398.9 1165.4L409.1 1146.9L419.5 1129.2L429.8 1112L440.2 1095L450.7 1078.6L461.2 1062.9L471.7 1047.8L482.3 1032.6L493 1017.8L503.7 1003.6L514.4 989.9L525.2 976.8L536.1 964.8L547 953.4L558 942.8L569 932.8L580 923.4L591.2 916L602.3 911.2L613.5 907.4L624.8 904.7L636.1 902.9L647.5 901.9L659 913.1L671.4 922.2L683.5 939.5L696.2 977" stroke="#777" stroke-width="1.3" fill="none"/>
<rect x="321.1" y="822.7" width="7.8" height="7.8" fill="#000"/><rect x="321.5" y="834.7" width="7.8" height="7.8" fill="#000"/><rect x="321.9" y="843.8" width="7.8" height="7.8" fill="#000"/><rect x="322.5" y="852.8" width="7.8" height="7.8" fill="#000"/><rect x="323.3" y="860" width="7.8" height="7.8" fill="#000"/><rect x="324.3" y="864.9" width="7.8" height="7.8" fill="#000"/><rect x="334.5" y="886.1" width="7.8" height="7.8" fill="#000"/><rect x="344.4" y="897.6" width="7.8" height="7.8" fill="#000"/><rect x="354.4" y="905.9" width="7.8" height="7.8" fill="#000"/><rect x="364.5" y="914.3" width="7.8" height="7.8" fill="#000"/><rect x="374.6" y="922.5" width="7.8" height="7.8" fill="#000"/><rect x="384.8" y="929.5" width="7.8" height="7.8" fill="#000"/><rect x="395" y="936.4" width="7.8" height="7.8" fill="#000"/><rect x="405.3" y="943.4" width="7.8" height="7.8" fill="#000"/><rect x="415.6" y="950.5" width="7.8" height="7.8" fill="#000"/><rect x="425.9" y="957.1" width="7.8" height="7.8" fill="#000"/><rect x="436.3" y="963.1" width="7.8" height="7.8" fill="#000"/><rect x="446.8" y="969.1" width="7.8" height="7.8" fill="#000"/><rect x="457.3" y="975.2" width="7.8" height="7.8" fill="#000"/><rect x="467.8" y="981.3" width="7.8" height="7.8" fill="#000"/><rect x="478.4" y="986.6" width="7.8" height="7.8" fill="#000"/><rect x="489.1" y="991.7" width="7.8" height="7.8" fill="#000"/><rect x="499.8" y="996.9" width="7.8" height="7.8" fill="#000"/><rect x="510.6" y="1002.1" width="7.8" height="7.8" fill="#000"/><rect x="521.4" y="1007.3" width="7.8" height="7.8" fill="#000"/><rect x="532.2" y="1013" width="7.8" height="7.8" fill="#000"/><rect x="543.1" y="1018.7" width="7.8" height="7.8" fill="#000"/><rect x="554.1" y="1024.5" width="7.8" height="7.8" fill="#000"/><rect x="565.1" y="1030.4" width="7.8" height="7.8" fill="#000"/><rect x="576.2" y="1036.2" width="7.8" height="7.8" fill="#000"/><rect x="587.3" y="1042.9" width="7.8" height="7.8" fill="#000"/><rect x="598.4" y="1050.9" width="7.8" height="7.8" fill="#000"/><rect x="609.7" y="1058.9" width="7.8" height="7.8" fill="#000"/><rect x="620.9" y="1066.9" width="7.8" height="7.8" fill="#000"/><rect x="632.3" y="1075" width="7.8" height="7.8" fill="#000"/><rect x="643.6" y="1083" width="7.8" height="7.8" fill="#000"/><rect x="655.1" y="1097" width="7.8" height="7.8" fill="#000"/><rect x="667.5" y="1109.7" width="7.8" height="7.8" fill="#000"/><rect x="679.6" y="1125.4" width="7.8" height="7.8" fill="#000"/><rect x="692.3" y="1150.1" width="7.8" height="7.8" fill="#000"/><rect x="321.1" y="1317.9" width="7.8" height="7.8" fill="#000"/><rect x="321.5" y="1316.8" width="7.8" height="7.8" fill="#000"/><rect x="321.9" y="1315.8" width="7.8" height="7.8" fill="#000"/><rect x="322.5" y="1314.3" width="7.8" height="7.8" fill="#000"/><rect x="323.3" y="1312.3" width="7.8" height="7.8" fill="#000"/><rect x="324.3" y="1309.8" width="7.8" height="7.8" fill="#000"/><rect x="334.5" y="1285.9" width="7.8" height="7.8" fill="#000"/><rect x="344.4" y="1263.5" width="7.8" height="7.8" fill="#000"/><rect x="354.4" y="1241.7" width="7.8" height="7.8" fill="#000"/><rect x="364.5" y="1220.7" width="7.8" height="7.8" fill="#000"/><rect x="374.6" y="1200.5" width="7.8" height="7.8" fill="#000"/><rect x="384.8" y="1180.6" width="7.8" height="7.8" fill="#000"/><rect x="395" y="1161.5" width="7.8" height="7.8" fill="#000"/><rect x="405.3" y="1143.1" width="7.8" height="7.8" fill="#000"/><rect x="415.6" y="1125.3" width="7.8" height="7.8" fill="#000"/><rect x="425.9" y="1108.1" width="7.8" height="7.8" fill="#000"/><rect x="436.3" y="1091.1" width="7.8" height="7.8" fill="#000"/><rect x="446.8" y="1074.7" width="7.8" height="7.8" fill="#000"/><rect x="457.3" y="1059" width="7.8" height="7.8" fill="#000"/><rect x="467.8" y="1043.9" width="7.8" height="7.8" fill="#000"/><rect x="478.4" y="1028.7" width="7.8" height="7.8" fill="#000"/><rect x="489.1" y="1013.9" width="7.8" height="7.8" fill="#000"/><rect x="499.8" y="999.7" width="7.8" height="7.8" fill="#000"/><rect x="510.6" y="986" width="7.8" height="7.8" fill="#000"/><rect x="521.4" y="972.9" width="7.8" height="7.8" fill="#000"/><rect x="532.2" y="960.9" width="7.8" height="7.8" fill="#000"/><rect x="543.1" y="949.5" width="7.8" height="7.8" fill="#000"/><rect x="554.1" y="938.9" width="7.8" height="7.8" fill="#000"/><rect x="565.1" y="928.9" width="7.8" height="7.8" fill="#000"/><rect x="576.2" y="919.5" width="7.8" height="7.8" fill="#000"/><rect x="587.3" y="912.1" width="7.8" height="7.8" fill="#000"/><rect x="598.4" y="907.3" width="7.8" height="7.8" fill="#000"/><rect x="609.7" y="903.6" width="7.8" height="7.8" fill="#000"/><rect x="620.9" y="900.8" width="7.8" height="7.8" fill="#000"/><rect x="632.3" y="899" width="7.8" height="7.8" fill="#000"/><rect x="643.6" y="898" width="7.8" height="7.8" fill="#000"/><rect x="655.1" y="909.2" width="7.8" height="7.8" fill="#000"/><rect x="667.5" y="918.3" width="7.8" height="7.8" fill="#000"/><rect x="679.6" y="935.6" width="7.8" height="7.8" fill="#000"/><rect x="692.3" y="973.1" width="7.8" height="7.8" fill="#000"/>
<path d="M325 838.6L325.4 850.7L325.8 859.7L326.4 868.8L327.2 876L328.2 880.8L340.2 894.9L350.2 905.5L360.2 913.8L370.3 922.1L380.4 930.2L390.6 937.1L400.8 944.1L411.1 951.1L421.4 958.1L431.8 964.5L442.2 970.6L452.7 976.6L463.2 982.6L473.7 988.7L484.4 993.9L495 999L505.7 1004.2L516.5 1009.3L527.3 1014.6L538.2 1020.4L549.1 1026.1L560.1 1031.9L571.1 1038.2L582.2 1045L593.3 1052.3L604.5 1060L615.7 1067.6L627 1075.3L638.3 1083.1L649.7 1108.1L661.8 1128.6L673.9 1162.4M325 1321.8L325.4 1320.7L325.8 1319.7L326.4 1318.3L327.2 1316.3L328.2 1313.9L340.2 1285.7L350.2 1263.5L360.2 1242L370.3 1221.3L380.4 1201.3L390.6 1181.7L400.8 1162.8L411.1 1144.7L421.4 1127.2L431.8 1110.1L442.2 1093.4L452.7 1077.3L463.2 1061.8L473.7 1047L484.4 1031.9L495 1017.4L505.7 1003.4L516.5 989.9L527.3 977.1L538.2 965.4L549.1 954.4L560.1 944L571.1 934.8L582.2 927.2L593.3 921L604.5 916.2L615.7 912.3L627 909.3L638.3 907.3L649.7 937.5L661.8 961.6L673.9 1014.1" stroke="#e0a0f0" stroke-width="1.3" fill="none"/>
<polygon points="319.6,838.6 329.1,833.2 329.1,844" fill="#b030f0"/><polygon points="320,850.7 329.5,845.3 329.5,856.1" fill="#b030f0"/><polygon points="320.4,859.7 329.9,854.3 329.9,865.1" fill="#b030f0"/><polygon points="321,868.8 330.5,863.4 330.5,874.1" fill="#b030f0"/><polygon points="321.8,876 331.3,870.6 331.3,881.4" fill="#b030f0"/><polygon points="322.8,880.8 332.3,875.4 332.3,886.2" fill="#b030f0"/><polygon points="334.8,894.9 344.3,889.5 344.3,900.3" fill="#b030f0"/><polygon points="344.8,905.5 354.3,900.1 354.3,910.9" fill="#b030f0"/><polygon points="354.8,913.8 364.3,908.4 364.3,919.2" fill="#b030f0"/><polygon points="364.9,922.1 374.4,916.7 374.4,927.5" fill="#b030f0"/><polygon points="375,930.2 384.5,924.8 384.5,935.6" fill="#b030f0"/><polygon points="385.2,937.1 394.7,931.7 394.7,942.5" fill="#b030f0"/><polygon points="395.4,944.1 404.9,938.7 404.9,949.5" fill="#b030f0"/><polygon points="405.7,951.1 415.2,945.7 415.2,956.5" fill="#b030f0"/><polygon points="416,958.1 425.5,952.7 425.5,963.5" fill="#b030f0"/><polygon points="426.4,964.5 435.8,959.1 435.8,969.9" fill="#b030f0"/><polygon points="436.8,970.6 446.3,965.2 446.3,976" fill="#b030f0"/><polygon points="447.3,976.6 456.7,971.2 456.7,982" fill="#b030f0"/><polygon points="457.8,982.6 467.2,977.2 467.2,988" fill="#b030f0"/><polygon points="468.3,988.7 477.8,983.3 477.8,994.1" fill="#b030f0"/><polygon points="479,993.9 488.4,988.5 488.4,999.3" fill="#b030f0"/><polygon points="489.6,999 499.1,993.6 499.1,1004.4" fill="#b030f0"/><polygon points="500.3,1004.2 509.8,998.8 509.8,1009.6" fill="#b030f0"/><polygon points="511.1,1009.3 520.5,1003.9 520.5,1014.7" fill="#b030f0"/><polygon points="521.9,1014.6 531.4,1009.2 531.4,1020" fill="#b030f0"/><polygon points="532.8,1020.4 542.2,1015 542.2,1025.8" fill="#b030f0"/><polygon points="543.7,1026.1 553.1,1020.7 553.1,1031.5" fill="#b030f0"/><polygon points="554.7,1031.9 564.1,1026.5 564.1,1037.3" fill="#b030f0"/><polygon points="565.7,1038.2 575.1,1032.8 575.1,1043.6" fill="#b030f0"/><polygon points="576.8,1045 586.2,1039.6 586.2,1050.4" fill="#b030f0"/><polygon points="587.9,1052.3 597.3,1046.9 597.3,1057.7" fill="#b030f0"/><polygon points="599.1,1060 608.5,1054.6 608.5,1065.4" fill="#b030f0"/><polygon points="610.3,1067.6 619.7,1062.2 619.7,1073" fill="#b030f0"/><polygon points="621.6,1075.3 631,1069.9 631,1080.7" fill="#b030f0"/><polygon points="632.9,1083.1 642.4,1077.7 642.4,1088.5" fill="#b030f0"/><polygon points="644.3,1108.1 653.7,1102.7 653.7,1113.5" fill="#b030f0"/><polygon points="656.4,1128.6 665.8,1123.2 665.8,1134" fill="#b030f0"/><polygon points="668.5,1162.4 677.9,1157 677.9,1167.8" fill="#b030f0"/><polygon points="319.6,1321.8 329.1,1316.4 329.1,1327.2" fill="#b030f0"/><polygon points="320,1320.7 329.5,1315.3 329.5,1326.1" fill="#b030f0"/><polygon points="320.4,1319.7 329.9,1314.3 329.9,1325.1" fill="#b030f0"/><polygon points="321,1318.3 330.5,1312.9 330.5,1323.7" fill="#b030f0"/><polygon points="321.8,1316.3 331.3,1310.9 331.3,1321.7" fill="#b030f0"/><polygon points="322.8,1313.9 332.3,1308.5 332.3,1319.3" fill="#b030f0"/><polygon points="334.8,1285.7 344.3,1280.3 344.3,1291.1" fill="#b030f0"/><polygon points="344.8,1263.5 354.3,1258.1 354.3,1268.9" fill="#b030f0"/><polygon points="354.8,1242 364.3,1236.6 364.3,1247.4" fill="#b030f0"/><polygon points="364.9,1221.3 374.4,1215.9 374.4,1226.7" fill="#b030f0"/><polygon points="375,1201.3 384.5,1195.9 384.5,1206.7" fill="#b030f0"/><polygon points="385.2,1181.7 394.7,1176.3 394.7,1187.1" fill="#b030f0"/><polygon points="395.4,1162.8 404.9,1157.4 404.9,1168.2" fill="#b030f0"/><polygon points="405.7,1144.7 415.2,1139.3 415.2,1150.1" fill="#b030f0"/><polygon points="416,1127.2 425.5,1121.8 425.5,1132.6" fill="#b030f0"/><polygon points="426.4,1110.1 435.8,1104.7 435.8,1115.5" fill="#b030f0"/><polygon points="436.8,1093.4 446.3,1088 446.3,1098.8" fill="#b030f0"/><polygon points="447.3,1077.3 456.7,1071.9 456.7,1082.7" fill="#b030f0"/><polygon points="457.8,1061.8 467.2,1056.4 467.2,1067.2" fill="#b030f0"/><polygon points="468.3,1047 477.8,1041.6 477.8,1052.4" fill="#b030f0"/><polygon points="479,1031.9 488.4,1026.5 488.4,1037.3" fill="#b030f0"/><polygon points="489.6,1017.4 499.1,1012 499.1,1022.8" fill="#b030f0"/><polygon points="500.3,1003.4 509.8,998 509.8,1008.8" fill="#b030f0"/><polygon points="511.1,989.9 520.5,984.5 520.5,995.3" fill="#b030f0"/><polygon points="521.9,977.1 531.4,971.7 531.4,982.5" fill="#b030f0"/><polygon points="532.8,965.4 542.2,960 542.2,970.8" fill="#b030f0"/><polygon points="543.7,954.4 553.1,949 553.1,959.8" fill="#b030f0"/><polygon points="554.7,944 564.1,938.6 564.1,949.4" fill="#b030f0"/><polygon points="565.7,934.8 575.1,929.4 575.1,940.2" fill="#b030f0"/><polygon points="576.8,927.2 586.2,921.8 586.2,932.6" fill="#b030f0"/><polygon points="587.9,921 597.3,915.6 597.3,926.4" fill="#b030f0"/><polygon points="599.1,916.2 608.5,910.8 608.5,921.6" fill="#b030f0"/><polygon points="610.3,912.3 619.7,906.9 619.7,917.7" fill="#b030f0"/><polygon points="621.6,909.3 631,903.9 631,914.7" fill="#b030f0"/><polygon points="632.9,907.3 642.4,901.9 642.4,912.7" fill="#b030f0"/><polygon points="644.3,937.5 653.7,932.1 653.7,942.9" fill="#b030f0"/><polygon points="656.4,961.6 665.8,956.2 665.8,967" fill="#b030f0"/><polygon points="668.5,1014.1 677.9,1008.7 677.9,1019.5" fill="#b030f0"/>
<path d="M325 825.3L325.4 837.4L325.8 846.4L326.4 855.5L327.2 862.7L328.2 867.5L337.6 887.8L347.6 899.7L357.6 908L367.7 916.4L377.8 924.7L388 931.7L398.2 938.6L408.4 945.6L418.7 952.7L429.1 959.4L439.5 965.4L449.9 971.4L460.4 977.4L471 983.5L481.6 988.9L492.2 994L502.9 999.2L513.7 1004.4L524.5 1009.6L535.3 1015.2L546.2 1021L557.2 1026.8L568.2 1032.6L579.3 1038.5L590.4 1044.9L601.5 1052.6L612.8 1060.2L624 1067.9L635.3 1075.6L646.7 1083.3L658.2 1096.7L670.4 1108.1L682.5 1123.8L694.6 1149.7M325 1321.8L325.4 1320.7L325.8 1319.7L326.4 1318.2L327.2 1316.2L328.2 1313.7L337.6 1291.4L347.6 1268.8L357.6 1246.9L367.7 1225.7L377.8 1205.4L388 1185.5L398.2 1166.2L408.4 1147.7L418.7 1129.8L429.1 1112.5L439.5 1095.4L449.9 1078.9L460.4 1063.1L471 1047.8L481.6 1032.6L492.2 1017.7L502.9 1003.4L513.7 989.6L524.5 976.3L535.3 964.2L546.2 952.7L557.2 941.9L568.2 931.8L579.3 922.3L590.4 914.4L601.5 909L612.8 904.5L624 900.9L635.3 898.4L646.7 896.6L658.2 906.2L670.4 912.9L682.5 929.8L694.6 969.8" stroke="#e8a0c0" stroke-width="1.3" fill="none"/>
<polygon points="330.4,825.3 320.9,819.9 320.9,830.7" fill="#6a0010"/><polygon points="330.8,837.4 321.4,832 321.4,842.8" fill="#6a0010"/><polygon points="331.2,846.4 321.8,841 321.8,851.8" fill="#6a0010"/><polygon points="331.8,855.5 322.4,850.1 322.4,860.9" fill="#6a0010"/><polygon points="332.6,862.7 323.2,857.3 323.2,868.1" fill="#6a0010"/><polygon points="333.6,867.5 324.2,862.1 324.2,872.9" fill="#6a0010"/><polygon points="343,887.8 333.6,882.4 333.6,893.2" fill="#6a0010"/><polygon points="353,899.7 343.6,894.3 343.6,905.1" fill="#6a0010"/><polygon points="363,908 353.6,902.6 353.6,913.4" fill="#6a0010"/><polygon points="373.1,916.4 363.6,911 363.6,921.8" fill="#6a0010"/><polygon points="383.2,924.7 373.8,919.3 373.8,930.1" fill="#6a0010"/><polygon points="393.4,931.7 383.9,926.3 383.9,937.1" fill="#6a0010"/><polygon points="403.6,938.6 394.1,933.2 394.1,944" fill="#6a0010"/><polygon points="413.8,945.6 404.4,940.2 404.4,951" fill="#6a0010"/><polygon points="424.1,952.7 414.7,947.3 414.7,958.1" fill="#6a0010"/><polygon points="434.5,959.4 425,954 425,964.8" fill="#6a0010"/><polygon points="444.9,965.4 435.4,960 435.4,970.8" fill="#6a0010"/><polygon points="455.3,971.4 445.9,966 445.9,976.8" fill="#6a0010"/><polygon points="465.8,977.4 456.4,972 456.4,982.8" fill="#6a0010"/><polygon points="476.4,983.5 466.9,978.1 466.9,988.9" fill="#6a0010"/><polygon points="487,988.9 477.5,983.5 477.5,994.3" fill="#6a0010"/><polygon points="497.6,994 488.2,988.6 488.2,999.4" fill="#6a0010"/><polygon points="508.3,999.2 498.9,993.8 498.9,1004.6" fill="#6a0010"/><polygon points="519.1,1004.4 509.6,999 509.6,1009.8" fill="#6a0010"/><polygon points="529.9,1009.6 520.4,1004.2 520.4,1015" fill="#6a0010"/><polygon points="540.7,1015.2 531.3,1009.8 531.3,1020.6" fill="#6a0010"/><polygon points="551.6,1021 542.2,1015.6 542.2,1026.4" fill="#6a0010"/><polygon points="562.6,1026.8 553.1,1021.4 553.1,1032.2" fill="#6a0010"/><polygon points="573.6,1032.6 564.2,1027.2 564.2,1038" fill="#6a0010"/><polygon points="584.7,1038.5 575.2,1033.1 575.2,1043.9" fill="#6a0010"/><polygon points="595.8,1044.9 586.3,1039.5 586.3,1050.3" fill="#6a0010"/><polygon points="606.9,1052.6 597.5,1047.2 597.5,1058" fill="#6a0010"/><polygon points="618.2,1060.2 608.7,1054.8 608.7,1065.6" fill="#6a0010"/><polygon points="629.4,1067.9 620,1062.5 620,1073.3" fill="#6a0010"/><polygon points="640.7,1075.6 631.3,1070.2 631.3,1081" fill="#6a0010"/><polygon points="652.1,1083.3 642.7,1077.9 642.7,1088.7" fill="#6a0010"/><polygon points="663.6,1096.7 654.1,1091.3 654.1,1102.1" fill="#6a0010"/><polygon points="675.8,1108.1 666.4,1102.7 666.4,1113.5" fill="#6a0010"/><polygon points="687.9,1123.8 678.5,1118.4 678.5,1129.2" fill="#6a0010"/><polygon points="700,1149.7 690.5,1144.3 690.5,1155.1" fill="#6a0010"/><polygon points="330.4,1321.8 320.9,1316.4 320.9,1327.2" fill="#6a0010"/><polygon points="330.8,1320.7 321.4,1315.3 321.4,1326.1" fill="#6a0010"/><polygon points="331.2,1319.7 321.8,1314.3 321.8,1325.1" fill="#6a0010"/><polygon points="331.8,1318.2 322.4,1312.8 322.4,1323.6" fill="#6a0010"/><polygon points="332.6,1316.2 323.2,1310.8 323.2,1321.6" fill="#6a0010"/><polygon points="333.6,1313.7 324.2,1308.3 324.2,1319.1" fill="#6a0010"/><polygon points="343,1291.4 333.6,1286 333.6,1296.8" fill="#6a0010"/><polygon points="353,1268.8 343.6,1263.4 343.6,1274.2" fill="#6a0010"/><polygon points="363,1246.9 353.6,1241.5 353.6,1252.3" fill="#6a0010"/><polygon points="373.1,1225.7 363.6,1220.3 363.6,1231.1" fill="#6a0010"/><polygon points="383.2,1205.4 373.8,1200 373.8,1210.8" fill="#6a0010"/><polygon points="393.4,1185.5 383.9,1180.1 383.9,1190.9" fill="#6a0010"/><polygon points="403.6,1166.2 394.1,1160.8 394.1,1171.6" fill="#6a0010"/><polygon points="413.8,1147.7 404.4,1142.3 404.4,1153.1" fill="#6a0010"/><polygon points="424.1,1129.8 414.7,1124.4 414.7,1135.2" fill="#6a0010"/><polygon points="434.5,1112.5 425,1107.1 425,1117.9" fill="#6a0010"/><polygon points="444.9,1095.4 435.4,1090 435.4,1100.8" fill="#6a0010"/><polygon points="455.3,1078.9 445.9,1073.5 445.9,1084.3" fill="#6a0010"/><polygon points="465.8,1063.1 456.4,1057.7 456.4,1068.5" fill="#6a0010"/><polygon points="476.4,1047.8 466.9,1042.4 466.9,1053.2" fill="#6a0010"/><polygon points="487,1032.6 477.5,1027.2 477.5,1038" fill="#6a0010"/><polygon points="497.6,1017.7 488.2,1012.3 488.2,1023.1" fill="#6a0010"/><polygon points="508.3,1003.4 498.9,998 498.9,1008.8" fill="#6a0010"/><polygon points="519.1,989.6 509.6,984.2 509.6,995" fill="#6a0010"/><polygon points="529.9,976.3 520.4,970.9 520.4,981.7" fill="#6a0010"/><polygon points="540.7,964.2 531.3,958.8 531.3,969.6" fill="#6a0010"/><polygon points="551.6,952.7 542.2,947.3 542.2,958.1" fill="#6a0010"/><polygon points="562.6,941.9 553.1,936.5 553.1,947.3" fill="#6a0010"/><polygon points="573.6,931.8 564.2,926.4 564.2,937.2" fill="#6a0010"/><polygon points="584.7,922.3 575.2,916.9 575.2,927.7" fill="#6a0010"/><polygon points="595.8,914.4 586.3,909 586.3,919.8" fill="#6a0010"/><polygon points="606.9,909 597.5,903.6 597.5,914.4" fill="#6a0010"/><polygon points="618.2,904.5 608.7,899.1 608.7,909.9" fill="#6a0010"/><polygon points="629.4,900.9 620,895.5 620,906.3" fill="#6a0010"/><polygon points="640.7,898.4 631.3,893 631.3,903.8" fill="#6a0010"/><polygon points="652.1,896.6 642.7,891.2 642.7,902" fill="#6a0010"/><polygon points="663.6,906.2 654.1,900.8 654.1,911.6" fill="#6a0010"/><polygon points="675.8,912.9 666.4,907.5 666.4,918.3" fill="#6a0010"/><polygon points="687.9,929.8 678.5,924.4 678.5,935.2" fill="#6a0010"/><polygon points="700,969.8 690.5,964.4 690.5,975.2" fill="#6a0010"/>
<g font-family="'Liberation Sans', Arial, sans-serif" font-weight="bold" font-size="16.5px" letter-spacing="0.45" fill="#111">
<path d="M858 765.2H903" stroke="#777" stroke-width="1.6"/>
<rect x="877" y="761.2" width="7.9" height="7.9" fill="#000"/>
<text x="910" y="771.2">PBI</text>
<path d="M858 789.2H903" stroke="#f4a0c8" stroke-width="1.6"/>
<circle cx="881" cy="789.2" r="4.5" fill="#ff1010"/>
<text x="910" y="795.2">PBpNT 0.05%</text>
<path d="M858 813.3H903" stroke="#a8f890" stroke-width="1.6"/>
<polygon points="881,807.8 886.5,817.4 875.5,817.4" fill="#4cff00"/>
<text x="910" y="819.3">PBpNT 0.1%</text>
<path d="M858 837.3H903" stroke="#9aa0f0" stroke-width="1.6"/>
<polygon points="881,842.8 886.5,833.2 875.5,833.2" fill="#1a2aff"/>
<text x="910" y="843.3">PBpNT 0.5%</text>
<path d="M858 861.3H903" stroke="#a8f4ea" stroke-width="1.6"/>
<polygon points="881,855.8 886.5,861.3 881,866.8 875.5,861.3" fill="#62f2dc"/>
<text x="910" y="867.3">PBpNT 1%</text>
<path d="M858 885.4H903" stroke="#e0a0f0" stroke-width="1.6"/>
<polygon points="875.5,885.4 885.1,879.9 885.1,890.9" fill="#b030f0"/>
<text x="910" y="891.4">PBpNT 2.5%</text>
<path d="M858 909.4H903" stroke="#e8a0c0" stroke-width="1.6"/>
<polygon points="886.5,909.4 876.9,903.9 876.9,914.9" fill="#6a0010"/>
<text x="910" y="915.4">PBNT 1%</text>
</g>
</g>
<g font-family="'Liberation Serif', 'Times New Roman', serif" font-size="59px" fill="#000" text-anchor="middle">
<text x="683" y="652.5">(<tspan font-weight="bold">a</tspan>)</text>
<text x="683" y="1551.5">(<tspan font-weight="bold">c</tspan>)</text>
<text x="1877" y="1551.5">(<tspan font-weight="bold">b</tspan>)</text>
</g>
<path d="M1411 722.5H2344M1411 806.5H2344" stroke="#dcdcdc" stroke-width="1.2"/>
</svg>
</body></html>
